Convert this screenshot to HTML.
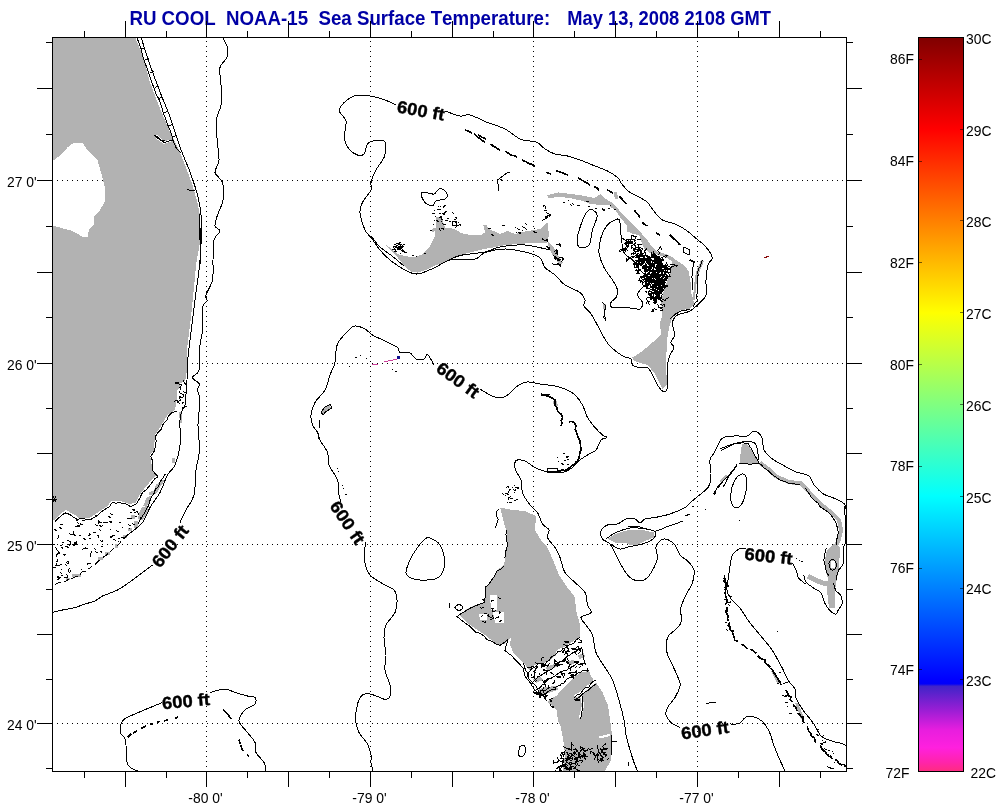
<!DOCTYPE html>
<html lang="en"><head><meta charset="utf-8"><title>RU COOL NOAA-15 Sea Surface Temperature</title>
<style>html,body{margin:0;padding:0;background:#fff;width:1000px;height:809px;overflow:hidden}svg text{font-kerning:none}</style>
</head><body>
<svg width="1000" height="809" viewBox="0 0 1000 809" style="display:block;position:absolute;left:0;top:0">
<rect x="0" y="0" width="1000" height="809" fill="#fff"/>
<defs><filter id="nf" x="-5%" y="-30%" width="110%" height="160%"><feOffset dx="0" dy="0"/></filter></defs>
<text transform="translate(129.4 24.9) scale(1 1.06)" textLength="420.8" font-family="'Liberation Sans',Arial,sans-serif" font-weight="bold" font-size="18.67" fill="#0000a5" xml:space="preserve" lengthAdjust="spacingAndGlyphs" filter="url(#nf)">RU COOL  NOAA-15  Sea Surface Temperature:</text>
<text transform="translate(567.3 24.9) scale(1 1.06)" textLength="203.6" font-family="'Liberation Sans',Arial,sans-serif" font-weight="bold" font-size="18.67" fill="#0000a5" xml:space="preserve" lengthAdjust="spacingAndGlyphs" filter="url(#nf)">May 13, 2008 2108 GMT</text>
<clipPath id="c"><rect x="52" y="37" width="795" height="735"/></clipPath>
<g clip-path="url(#c)">
<path d="M206.5 772V37M370.5 772V37M533.5 772V37M697.5 772V37M52 180.5H846M52 363.5H846M52 544.5H846M52 723.5H846" stroke="#000" stroke-width="1" stroke-dasharray="1 4" fill="none" shape-rendering="crispEdges"/>
<g shape-rendering="crispEdges"><path d="M52.0 37.0L135.0 37.0L142.5 55.0L146.0 67.5L150.0 82.5L157.5 102.5L165.0 120.0L172.5 137.5L180.0 152.5L186.0 167.5L192.5 185.0L197.5 202.5L200.0 215.0L199.5 245.0L196.0 265.0L194.0 287.5L191.0 317.5L187.5 345.0L187.0 370.0L185.0 382.5L177.5 390.0L176.0 405.0L175.0 410.0L167.5 415.0L160.0 427.5L155.0 435.0L154.0 450.0L150.0 455.0L152.5 470.0L156.0 475.0L145.0 487.5L139.0 496.0L136.0 502.5L130.0 504.0L125.0 502.5L120.0 501.0L111.0 501.0L107.5 506.0L100.0 511.0L90.0 517.5L77.5 517.5L75.0 515.0L66.0 510.0L59.0 515.0L54.0 520.0L52.0 520.0ZM52.0 160.0L54.0 160.0L61.0 155.0L67.5 147.5L74.0 142.5L82.5 142.5L87.5 150.0L97.5 160.0L101.0 172.5L105.0 187.5L104.5 202.5L100.0 210.0L94.0 216.0L94.0 225.0L89.0 229.0L87.5 237.0L84.0 237.5L72.5 231.0L54.0 226.0L52.0 225.0Z" fill="#b2b2b2" fill-rule="evenodd"/>
<polygon points="156.0,484.5 163.4,479.7 164.0,481.5 159.7,487.4 156.7,493.4 152.3,495.6 149.3,494.9 148.6,491.9 153.8,491.1" fill="#b2b2b2"/>
<polygon points="141.9,507.5 147.0,506.0 148.6,509.7 145.6,515.6 142.6,520.0 138.2,519.3 138.9,512.6" fill="#b2b2b2"/>
<polygon points="147.0,497.0 151.0,496.0 149.0,503.0 146.0,507.0 143.0,506.0" fill="#b2b2b2"/>
<polygon points="179.0,412.0 182.0,412.0 182.0,423.0 180.0,423.0" fill="#b2b2b2"/>
<rect x="172" y="458" width="3" height="5" fill="#b2b2b2"/>
<rect x="131" y="515" width="4" height="4" fill="#b2b2b2"/>
<rect x="134" y="521" width="4" height="7" fill="#b2b2b2"/>
<rect x="128" y="528" width="4" height="3" fill="#b2b2b2"/>
<rect x="123" y="535" width="4" height="3" fill="#b2b2b2"/>
<rect x="115" y="544" width="3" height="4" fill="#b2b2b2"/>
<rect x="105" y="552" width="5" height="3" fill="#b2b2b2"/>
<rect x="98" y="557" width="5" height="3" fill="#b2b2b2"/>
<rect x="72" y="574" width="9" height="3" fill="#b2b2b2"/>
<rect x="66" y="578" width="4" height="2" fill="#b2b2b2"/>
<polygon points="384.4,243.8 390.4,248.0 397.6,254.0 406.0,256.4 415.6,257.0 422.8,254.0 428.8,248.0 432.4,240.8 435.4,236.0 435.4,231.2 431.8,231.8 431.8,228.8 436.0,227.6 436.0,217.4 440.8,217.4 443.2,221.6 445.0,227.6 454.0,228.8 461.2,233.0 472.0,235.4 480.4,235.4 485.2,232.4 483.4,225.2 485.8,224.6 490.0,229.4 500.0,234.0 507.5,231.0 515.0,234.0 527.5,231.0 540.0,229.0 547.5,222.5 549.0,235.0 547.5,242.5 535.0,242.5 520.0,244.0 505.0,245.0 490.0,248.0 478.0,250.4 461.2,254.6 449.2,259.4 442.0,263.0 433.6,266.0 426.4,269.6 418.0,272.6 412.0,272.0 407.2,269.0 402.4,263.6 397.6,257.6 390.4,250.4" fill="#b2b2b2"/>
<polygon points="548.0,242.0 553.0,246.0 558.0,255.0 563.0,263.0 560.0,265.0 554.0,257.0 549.0,249.0" fill="#b2b2b2"/>
<polygon points="547.0,195.2 558.5,192.4 573.7,194.3 585.0,196.0 594.6,198.0 600.3,194.3 606.0,199.0 613.6,203.8 611.7,205.5 602.0,205.0 590.8,204.0 583.0,201.0 571.8,198.5 558.5,196.5 549.0,198.5" fill="#b2b2b2"/>
<polygon points="613.6,192.4 617.0,192.4 618.4,199.0 615.0,199.0" fill="#b2b2b2"/>
<polygon points="609.8,204.0 613.6,203.8 621.0,212.3 628.8,220.0 636.4,227.5 642.0,234.0 647.8,240.8 651.6,246.5 656.4,251.3 663.0,253.0 670.6,256.0 677.3,260.8 684.0,265.5 688.7,271.0 690.6,282.6 691.5,294.0 694.4,303.5 690.0,309.0 680.0,310.0 672.5,317.5 669.0,327.5 667.0,340.0 666.0,365.0 667.0,385.0 662.5,389.0 660.0,384.0 654.0,372.5 647.5,365.0 634.0,361.0 632.5,357.5 642.5,351.0 652.5,342.5 661.0,335.0 660.0,322.5 662.5,315.0 661.0,301.6 663.0,294.0 666.8,282.6 670.6,271.0 672.5,261.7 666.8,258.0 659.0,255.0 649.7,253.0 644.0,248.4 641.0,240.8 639.0,235.0 633.6,234.0 627.0,231.3 627.0,225.6 623.0,220.9 619.3,216.0 615.5,210.4 609.8,206.6" fill="#b2b2b2"/>
<polygon points="701.0,260.0 704.0,261.0 699.0,273.0 696.0,286.0 695.0,300.0 693.0,300.0 694.0,285.0 696.0,272.0" fill="#b2b2b2"/>
<polygon points="500.0,507.5 512.5,510.0 525.0,511.0 536.0,516.0 535.0,530.0 541.0,540.0 547.5,547.5 554.0,562.5 559.0,575.0 567.5,587.5 575.0,597.5 576.0,610.0 580.0,625.0 580.0,637.0 572.0,642.0 564.5,646.7 556.7,650.0 555.6,655.6 547.8,662.0 539.0,663.4 531.0,666.7 530.0,671.0 525.6,665.6 520.0,660.0 514.0,654.0 510.0,645.0 511.0,637.5 505.0,644.0 497.5,645.0 485.0,635.0 470.0,625.0 460.0,616.0 465.0,610.0 475.0,605.0 485.0,602.5 486.0,586.0 492.5,580.0 497.5,570.0 504.0,565.0 505.5,555.0 507.5,542.5 506.0,530.0 502.5,517.5" fill="#b2b2b2"/>
<polygon points="589.0,671.0 591.0,676.7 595.6,682.0 598.0,685.6 602.3,692.0 608.0,705.6 610.0,720.0 611.0,725.0 612.5,742.5 611.0,760.0 605.0,771.0 562.5,771.0 565.0,755.0 564.0,745.0 561.0,727.5 557.8,720.0 556.7,710.0 547.8,702.0 550.0,699.0 556.7,695.6 562.0,689.0 569.0,682.0 575.6,675.6 582.3,672.0" fill="#b2b2b2"/>
<polygon points="538.0,690.0 545.0,687.0 557.0,686.0 558.0,690.0 548.0,693.0 540.0,694.0" fill="#b2b2b2"/>
<polygon points="533.0,679.0 540.0,677.0 543.0,680.0 536.0,683.0" fill="#b2b2b2"/>
<polygon points="568.0,661.0 574.0,660.0 574.0,664.0 569.0,665.0" fill="#b2b2b2"/>
<polygon points="545.0,668.0 556.0,663.0 558.0,666.0 548.0,671.0" fill="#b2b2b2"/>
<polygon points="578.0,655.0 584.0,653.0 585.0,657.0 579.0,659.0" fill="#b2b2b2"/>
<polygon points="490.0,595.0 497.0,595.0 497.5,610.0 491.0,610.0" fill="#fff"/>
<polygon points="479.0,614.0 487.0,614.0 487.5,620.0 480.0,620.0" fill="#fff"/>
<polygon points="493.0,612.0 504.0,612.0 504.0,622.5 495.0,622.5" fill="#fff"/>
<path d="M599 737.5L610 735" stroke="#fff" stroke-width="2.2" fill="none"/>
<path d="M596 680.5L588 687L581 693L575 696.5" stroke="#fff" stroke-width="3.2" fill="none"/>
<path d="M581 694L583 705L580 718" stroke="#fff" stroke-width="2.2" fill="none"/>
<polygon points="154.0,134.5 158.0,135.5 164.0,141.0 172.0,139.5 172.5,141.0 164.0,144.0 157.0,139.5" fill="#fff"/>
<polygon points="180.5,383.0 185.5,381.0 185.0,404.0 181.0,406.0 179.0,395.0" fill="#fff"/>
<polygon points="607.5,539.0 615.0,534.0 630.0,529.5 642.5,530.0 654.0,532.5 654.0,537.5 645.0,541.0 637.5,545.0 630.0,545.0 625.0,542.5 615.0,542.5" fill="#b2b2b2"/>
<polygon points="742.0,443.5 748.0,444.7 754.0,454.6 759.0,463.0 750.5,464.5 739.5,463.0 740.7,452.0" fill="#b2b2b2"/>
<path d="M760.0 463.0L769.0 469.5L777.0 477.0L789.0 482.0L801.0 483.5L809.0 492.0L816.0 499.0L824.0 507.0L833.0 514.0L839.0 520.0L841.0 530.0L839.0 539.0L835.0 548.0" stroke="#b2b2b2" stroke-width="4.2" fill="none" stroke-linejoin="round"/>
<polygon points="833.0,544.0 840.0,547.0 839.0,570.0 837.0,578.0 835.0,590.0 835.0,608.0 829.0,608.0 827.0,590.0 828.0,578.0 826.0,572.0 825.0,560.0 827.0,550.0" fill="#b2b2b2"/>
<path d="M808 576L815 580L823 583L831 584" stroke="#b2b2b2" stroke-width="5" fill="none"/>
<polygon points="830.5,561.0 834.5,561.0 835.0,568.0 831.0,568.0" fill="#fff"/>
<polygon points="321.0,412.0 325.0,407.0 330.0,405.0 331.0,408.0 326.0,411.0 323.0,414.0" fill="#b2b2b2"/>
<polygon points="553.0,401.0 557.0,401.0 558.0,406.0 554.0,406.0" fill="#b2b2b2"/>
<polygon points="603.0,304.0 606.0,304.0 606.0,309.0 603.0,309.0" fill="#b2b2b2"/>
<polygon points="771.0,671.0 774.0,671.0 780.0,682.0 777.0,683.0" fill="#b2b2b2"/>
<polygon points="795.0,703.0 798.0,703.0 804.0,718.0 801.0,719.0" fill="#b2b2b2"/>
<polygon points="719.0,481.0 726.0,475.0 728.0,476.0 721.0,482.0" fill="#b2b2b2"/>
<path d="M372 364.5h6M384 361.5h4M388 360.5h5M393 359.5h4" stroke="#cc3d99" stroke-width="1.6" fill="none"/>
<rect x="397" y="356" width="3" height="2.5" fill="#101090"/>
<path d="M764 257.5h3M766 256.5h3" stroke="#8a0c0c" stroke-width="1.2" fill="none"/></g>
<path d="M222.5 37.0C223.3 38.8 226.8 44.1 227.5 47.5C228.2 50.9 228.2 54.2 227.0 57.5C225.8 60.8 221.0 62.9 220.0 67.5C219.0 72.1 220.8 78.8 221.0 85.0C221.2 91.2 221.7 99.6 221.0 105.0C220.3 110.4 217.7 112.1 217.0 117.5C216.3 122.9 216.7 130.4 217.0 137.5C217.3 144.6 219.3 154.2 219.0 160.0C218.7 165.8 214.4 168.8 215.0 172.5C215.6 176.2 221.2 177.9 222.5 182.5C223.8 187.1 223.8 194.6 223.0 200.0C222.2 205.4 218.8 210.7 217.5 215.0C216.2 219.3 214.6 223.3 215.0 226.0C215.4 228.7 220.2 228.7 220.0 231.0C219.8 233.3 215.2 235.2 214.0 240.0C212.8 244.8 213.2 253.3 213.0 260.0C212.8 266.7 213.7 274.2 212.5 280.0C211.3 285.8 206.9 291.5 206.0 295.0C205.1 298.5 207.6 298.9 207.0 301.0C206.4 303.1 203.2 302.7 202.5 307.5C201.8 312.3 202.9 323.8 202.5 330.0C202.1 336.2 200.6 338.3 200.0 345.0C199.4 351.7 200.2 364.6 199.0 370.0C197.8 375.4 192.4 375.2 192.5 377.5C192.6 379.8 198.7 381.9 199.5 384.0C200.3 386.1 197.4 387.3 197.5 390.0C197.6 392.7 199.9 394.2 200.0 400.0C200.1 405.8 198.1 416.7 198.0 425.0C197.9 433.3 199.8 442.5 199.5 450.0C199.2 457.5 196.9 462.5 196.0 470.0C195.1 477.5 195.7 488.3 194.0 495.0C192.3 501.7 188.3 505.4 186.0 510.0C183.7 514.6 181.0 520.4 180.0 522.5M152.5 565.0C149.2 567.5 138.3 575.8 132.5 580.0C126.7 584.2 122.5 587.3 117.5 590.0C112.5 592.7 106.2 594.2 102.5 596.0C98.8 597.8 97.9 599.7 95.0 601.0C92.1 602.3 88.3 602.9 85.0 604.0C81.7 605.1 78.8 606.5 75.0 607.5C71.2 608.5 66.3 609.2 62.5 610.0C58.7 610.8 53.8 612.1 52.0 612.5M141.0 37.0C142.3 41.2 145.8 52.8 149.0 62.0C152.2 71.2 156.5 82.8 160.0 92.0C163.5 101.2 166.7 107.8 170.0 117.0C173.3 126.2 176.7 137.8 180.0 147.0C183.3 156.2 187.1 164.0 190.0 172.0C192.9 180.0 195.7 187.8 197.5 195.0C199.3 202.2 200.4 206.7 201.0 215.0C201.6 223.3 201.3 235.8 201.0 245.0C200.7 254.2 200.0 260.8 199.0 270.0C198.0 279.2 196.3 289.6 195.0 300.0C193.7 310.4 192.2 322.9 191.0 332.5C189.8 342.1 188.7 349.6 188.0 357.5C187.3 365.4 187.5 372.1 187.0 380.0C186.5 387.9 185.8 400.0 185.0 405.0C184.2 410.0 183.3 407.5 182.5 410.0C181.7 412.5 180.4 414.2 180.0 420.0C179.6 425.8 180.8 437.5 180.0 445.0C179.2 452.5 177.1 460.0 175.0 465.0C172.9 470.0 170.0 470.4 167.5 475.0C165.0 479.6 162.9 487.1 160.0 492.5C157.1 497.9 152.9 502.5 150.0 507.5C147.1 512.5 146.2 517.9 142.5 522.5C138.8 527.1 130.0 532.9 127.5 535.0M396.0 105.0C394.2 104.2 389.3 101.5 385.0 100.0C380.7 98.5 375.2 96.7 370.0 96.0C364.8 95.3 358.8 94.3 354.0 96.0C349.2 97.7 343.3 103.2 341.0 106.0C338.7 108.8 339.2 110.0 340.0 112.5C340.8 115.0 345.2 116.8 346.0 121.0C346.8 125.2 344.0 132.8 344.5 137.5C345.0 142.2 346.8 146.1 349.0 149.0C351.2 151.9 355.0 154.2 357.5 155.0C360.0 155.8 362.3 155.8 364.0 154.0C365.7 152.2 365.7 146.2 367.5 144.0C369.3 141.8 372.2 141.0 375.0 140.5C377.8 140.0 382.2 140.1 384.0 141.0C385.8 141.9 386.0 143.2 386.0 146.0C386.0 148.8 385.7 153.5 384.0 157.5C382.3 161.5 378.2 165.8 376.0 170.0C373.8 174.2 371.8 179.2 371.0 182.5C370.2 185.8 372.4 186.7 371.0 190.0C369.6 193.3 364.3 198.8 362.5 202.5C360.7 206.2 359.6 207.9 360.0 212.5C360.4 217.1 363.2 225.8 365.0 230.0C366.8 234.2 368.5 234.2 371.0 237.5C373.5 240.8 376.8 246.2 380.0 250.0C383.2 253.8 385.8 256.7 390.0 260.0C394.2 263.3 400.4 267.7 405.0 270.0C409.6 272.3 412.5 274.4 417.5 274.0C422.5 273.6 429.6 269.8 435.0 267.5C440.4 265.2 443.3 261.4 450.0 260.0C456.7 258.6 469.2 260.2 475.0 259.0C480.8 257.8 480.0 254.2 485.0 252.5C490.0 250.8 498.3 249.1 505.0 249.0C511.7 248.9 520.0 251.0 525.0 252.0C530.0 253.0 532.3 253.8 535.0 255.0C537.7 256.2 539.3 256.9 541.0 259.0C542.7 261.1 542.7 264.8 545.0 267.5C547.3 270.2 551.7 272.1 555.0 275.0C558.3 277.9 560.8 282.1 565.0 285.0C569.2 287.9 576.7 290.0 580.0 292.5C583.3 295.0 584.3 297.8 585.0 300.0C585.7 302.2 583.2 303.9 584.0 306.0C584.8 308.1 588.0 309.8 590.0 312.5C592.0 315.2 593.9 318.8 596.0 322.5C598.1 326.2 600.3 331.2 602.5 335.0C604.7 338.8 606.5 342.1 609.0 345.0C611.5 347.9 614.8 350.5 617.5 352.5C620.2 354.5 622.8 355.9 625.0 357.0C627.2 358.1 629.8 357.7 631.0 359.0C632.2 360.3 631.0 363.6 632.5 365.0C634.0 366.4 637.5 367.1 640.0 367.5C642.5 367.9 645.4 366.2 647.5 367.5C649.6 368.8 650.8 372.1 652.5 375.0C654.2 377.9 655.8 382.3 657.5 385.0C659.2 387.7 660.9 390.3 662.5 391.0C664.1 391.7 666.2 393.3 667.0 389.0C667.8 384.7 667.0 370.7 667.5 365.0C668.0 359.3 668.9 357.9 670.0 355.0C671.1 352.1 673.8 349.6 674.0 347.5C674.2 345.4 670.9 344.6 671.0 342.5C671.1 340.4 674.2 338.3 674.5 335.0C674.8 331.7 672.0 325.8 672.5 322.5C673.0 319.2 674.6 316.9 677.5 315.0C680.4 313.1 686.2 313.1 690.0 311.0C693.8 308.9 697.3 305.2 700.0 302.5C702.7 299.8 705.0 298.8 706.0 295.0C707.0 291.2 705.7 285.0 706.0 280.0C706.3 275.0 707.0 268.5 708.0 265.0C709.0 261.5 711.5 260.8 712.0 259.0C712.5 257.2 712.2 256.2 711.0 254.0C709.8 251.8 707.7 248.8 705.0 246.0C702.3 243.2 698.2 240.2 695.0 237.5C691.8 234.8 689.3 232.2 686.0 230.0C682.7 227.8 678.9 225.7 675.0 224.0C671.1 222.3 665.8 221.9 662.5 220.0C659.2 218.1 657.5 215.4 655.0 212.5C652.5 209.6 650.0 205.0 647.5 202.5C645.0 200.0 642.9 199.2 640.0 197.5C637.1 195.8 632.9 194.6 630.0 192.5C627.1 190.4 624.6 187.5 622.5 185.0C620.4 182.5 620.0 179.8 617.5 177.5C615.0 175.2 611.2 172.9 607.5 171.0C603.8 169.1 599.6 167.8 595.0 166.0C590.4 164.2 584.6 161.7 580.0 160.0C575.4 158.3 571.7 157.0 567.5 156.0C563.3 155.0 558.8 155.2 555.0 154.0C551.2 152.8 547.9 150.9 545.0 149.0C542.1 147.1 540.0 143.8 537.5 142.5C535.0 141.2 532.9 141.6 530.0 141.0C527.1 140.4 524.2 141.0 520.0 139.0C515.8 137.0 510.4 131.8 505.0 129.0C499.6 126.2 493.3 124.8 487.5 122.5C481.7 120.2 474.6 116.1 470.0 115.0C465.4 113.9 464.2 116.7 460.0 116.0C455.8 115.3 447.5 111.8 445.0 111.0M447.5 261.0C449.6 260.1 453.8 257.0 460.0 255.5C466.2 254.0 478.3 253.4 485.0 252.0C491.7 250.6 493.3 248.2 500.0 247.0C506.7 245.8 516.7 244.5 525.0 245.0C533.3 245.5 545.8 249.2 550.0 250.0M371.0 236.0C372.5 237.8 376.5 243.7 380.0 247.0C383.5 250.3 388.0 252.8 392.0 256.0C396.0 259.2 402.0 264.3 404.0 266.0M590.0 209.5C591.8 209.1 594.8 211.2 596.0 212.5C597.2 213.8 597.6 214.6 597.0 217.5C596.4 220.4 593.8 225.4 592.5 230.0C591.2 234.6 591.1 242.1 589.0 245.0C586.9 247.9 582.0 248.3 580.0 247.5C578.0 246.7 577.0 243.3 577.0 240.0C577.0 236.7 578.7 231.7 580.0 227.5C581.3 223.3 583.3 218.0 585.0 215.0C586.7 212.0 588.2 209.9 590.0 209.5ZM617.5 219.0C615.4 219.4 610.2 221.9 607.5 225.0C604.8 228.1 602.4 232.9 601.0 237.5C599.6 242.1 598.5 247.5 599.0 252.5C599.5 257.5 601.8 262.9 604.0 267.5C606.2 272.1 610.2 276.2 612.5 280.0C614.8 283.8 616.9 287.1 617.5 290.0C618.1 292.9 617.1 295.4 616.0 297.5C614.9 299.6 611.6 300.8 611.0 302.5C610.4 304.2 609.3 306.6 612.5 307.5C615.7 308.4 625.4 307.8 630.0 308.0C634.6 308.2 637.9 309.9 640.0 309.0C642.1 308.1 642.9 304.8 642.5 302.5C642.1 300.2 637.5 297.5 637.5 295.0C637.5 292.5 640.4 289.8 642.5 287.5C644.6 285.2 650.4 283.9 650.0 281.0C649.6 278.1 642.9 273.5 640.0 270.0C637.1 266.5 635.2 262.9 632.5 260.0C629.8 257.1 625.9 256.7 624.0 252.5C622.1 248.3 621.7 240.0 621.0 235.0C620.3 230.0 620.6 225.2 620.0 222.5C619.4 219.8 619.6 218.6 617.5 219.0ZM421.0 194.0C421.0 195.7 423.1 200.5 425.0 202.5C426.9 204.5 430.7 206.2 432.5 206.0C434.3 205.8 433.9 202.2 436.0 201.0C438.1 199.8 443.1 200.0 445.0 199.0C446.9 198.0 447.7 196.5 447.5 195.0C447.3 193.5 445.4 191.0 444.0 190.0C442.6 189.0 440.7 188.3 439.0 189.0C437.3 189.7 436.3 193.4 434.0 194.0C431.7 194.6 427.2 192.5 425.0 192.5C422.8 192.5 421.0 192.3 421.0 194.0ZM434.0 365.0C432.9 363.2 429.2 355.5 427.5 354.5C425.8 353.5 425.9 358.2 424.0 359.0C422.1 359.8 418.3 360.0 416.0 359.0C413.7 358.0 412.7 354.1 410.0 353.0C407.3 351.9 402.1 353.4 400.0 352.5C397.9 351.6 400.0 349.4 397.5 347.5C395.0 345.6 389.2 343.1 385.0 341.0C380.8 338.9 375.8 337.0 372.5 335.0C369.2 333.0 367.9 330.5 365.0 329.0C362.1 327.5 357.7 325.8 355.0 326.0C352.3 326.2 351.9 327.0 349.0 330.0C346.1 333.0 339.8 338.6 337.5 344.0C335.2 349.4 336.2 357.3 335.0 362.5C333.8 367.7 331.7 370.4 330.0 375.0C328.3 379.6 327.5 385.4 325.0 390.0C322.5 394.6 317.3 398.3 315.0 402.5C312.7 406.7 311.4 411.2 311.0 415.0C310.6 418.8 311.4 422.2 312.5 425.0C313.6 427.8 316.2 429.5 317.5 432.0C318.8 434.5 318.3 436.6 320.0 440.0C321.7 443.4 326.0 448.3 327.5 452.5C329.0 456.7 327.3 460.4 329.0 465.0C330.7 469.6 335.8 475.0 337.5 480.0C339.2 485.0 338.4 491.3 339.0 495.0C339.6 498.7 340.7 500.8 341.0 502.0M365.5 542.5C365.3 545.4 363.8 554.6 364.5 560.0C365.2 565.4 366.6 570.8 370.0 575.0C373.4 579.2 381.0 582.5 385.0 585.0C389.0 587.5 392.0 587.5 394.0 590.0C396.0 592.5 396.8 596.2 397.0 600.0C397.2 603.8 396.8 608.3 395.0 612.5C393.2 616.7 387.8 620.8 386.0 625.0C384.2 629.2 384.0 632.5 384.0 637.5C384.0 642.5 385.8 649.6 386.0 655.0C386.2 660.4 384.3 665.0 385.0 670.0C385.7 675.0 389.1 680.8 390.0 685.0C390.9 689.2 391.2 692.6 390.5 695.0C389.8 697.4 387.8 699.1 386.0 699.5C384.2 699.9 382.7 698.4 380.0 697.5C377.3 696.6 372.9 694.4 370.0 694.0C367.1 693.6 364.5 693.6 362.5 695.0C360.5 696.4 359.2 698.3 358.0 702.5C356.8 706.7 355.3 715.0 355.5 720.0C355.7 725.0 357.0 728.5 359.0 732.5C361.0 736.5 365.5 740.2 367.5 744.0C369.5 747.8 370.4 751.9 371.0 755.0C371.6 758.1 370.7 759.8 371.0 762.5C371.3 765.2 372.7 769.6 373.0 771.0M480.0 389.0C481.7 390.0 486.7 393.5 490.0 395.0C493.3 396.5 497.1 398.0 500.0 398.0C502.9 398.0 504.6 397.0 507.5 395.0C510.4 393.0 514.2 388.2 517.5 386.0C520.8 383.8 523.8 382.3 527.5 382.0C531.2 381.7 535.4 383.3 540.0 384.0C544.6 384.7 550.8 385.2 555.0 386.0C559.2 386.8 561.7 387.5 565.0 389.0C568.3 390.5 572.1 392.3 575.0 395.0C577.9 397.7 580.4 401.2 582.5 405.0C584.6 408.8 585.4 413.8 587.5 417.5C589.6 421.2 592.5 424.6 595.0 427.5C597.5 430.4 600.5 433.3 602.5 435.0C604.5 436.7 607.2 436.7 607.0 437.5C606.8 438.3 602.8 437.9 601.0 440.0C599.2 442.1 598.2 447.5 596.0 450.0C593.8 452.5 590.2 453.3 587.5 455.0C584.8 456.7 582.5 457.9 580.0 460.0C577.5 462.1 575.4 465.4 572.5 467.5C569.6 469.6 566.2 471.7 562.5 472.5C558.8 473.3 553.1 472.8 550.0 472.5C546.9 472.2 546.5 471.8 544.0 471.0C541.5 470.2 538.2 469.2 535.0 467.5C531.8 465.8 527.9 462.2 525.0 461.0C522.1 459.8 519.2 459.8 517.5 460.0C515.8 460.2 515.3 460.8 515.0 462.5C514.7 464.2 514.5 467.1 515.5 470.0C516.5 472.9 519.8 476.2 521.0 480.0C522.2 483.8 521.0 488.3 522.5 492.5C524.0 496.7 527.5 501.7 530.0 505.0C532.5 508.3 535.4 509.3 537.5 512.5C539.6 515.7 540.6 521.1 542.5 524.0C544.4 526.9 548.2 527.8 549.0 530.0C549.8 532.2 546.5 534.6 547.5 537.5C548.5 540.4 552.9 544.2 555.0 547.5C557.1 550.8 558.3 553.3 560.0 557.5C561.7 561.7 562.5 568.3 565.0 572.5C567.5 576.7 571.7 579.2 575.0 582.5C578.3 585.8 582.9 588.8 585.0 592.5C587.1 596.2 586.5 601.7 587.5 605.0C588.5 608.3 592.1 610.4 591.0 612.5C589.9 614.6 581.8 615.4 581.0 617.5C580.2 619.6 584.1 622.1 586.0 625.0C587.9 627.9 590.8 630.4 592.5 635.0C594.2 639.6 593.9 647.1 596.0 652.5C598.1 657.9 602.2 662.9 605.0 667.5C607.8 672.1 610.2 674.6 612.5 680.0C614.8 685.4 617.1 693.3 619.0 700.0C620.9 706.7 622.8 714.2 624.0 720.0C625.2 725.8 625.0 730.0 626.0 735.0C627.0 740.0 628.7 745.4 630.0 750.0C631.3 754.6 632.8 759.0 634.0 762.5C635.2 766.0 636.9 769.6 637.5 771.0M455.0 607.5C455.0 606.5 457.7 604.5 459.0 604.5C460.3 604.5 463.0 606.5 463.0 607.5C463.0 608.5 460.3 610.5 459.0 610.5C457.7 610.5 455.0 608.5 455.0 607.5ZM520.0 746.5C520.9 745.8 523.6 745.2 524.5 746.0C525.4 746.8 525.8 749.3 525.5 751.0C525.2 752.7 524.1 755.2 523.0 756.0C521.9 756.8 519.7 756.5 519.0 755.5C518.3 754.5 518.8 751.5 519.0 750.0C519.2 748.5 519.1 747.2 520.0 746.5ZM430.0 538.0C432.5 539.0 437.6 541.3 440.0 545.0C442.4 548.7 444.1 555.4 444.5 560.0C444.9 564.6 444.1 569.3 442.5 572.5C440.9 575.7 438.8 577.8 435.0 579.0C431.2 580.2 424.2 580.2 420.0 580.0C415.8 579.8 412.3 578.8 410.0 577.5C407.7 576.2 406.0 575.4 406.0 572.5C406.0 569.6 408.1 564.2 410.0 560.0C411.9 555.8 415.0 551.0 417.5 547.5C420.0 544.0 422.9 540.6 425.0 539.0C427.1 537.4 427.5 537.0 430.0 538.0ZM846.0 509.0C845.8 508.2 846.2 505.7 844.5 504.0C842.8 502.3 839.5 500.7 836.0 499.0C832.5 497.3 827.2 496.4 823.5 494.0C819.8 491.6 816.1 487.4 813.6 484.3C811.1 481.2 811.6 477.7 808.7 475.6C805.8 473.6 800.4 473.6 796.3 472.0C792.2 470.4 788.1 468.0 784.0 465.7C779.9 463.4 774.9 461.0 771.6 458.3C768.3 455.6 765.6 453.2 764.0 449.7C762.4 446.2 763.3 440.4 761.7 437.3C760.1 434.2 756.8 431.2 754.3 431.0C751.8 430.8 750.3 435.2 747.0 436.0C743.7 436.8 738.7 435.6 734.5 436.0C730.3 436.4 725.3 435.8 722.0 438.5C718.7 441.2 716.7 448.4 714.7 452.0C712.7 455.6 710.6 456.3 710.0 460.0C709.4 463.7 711.2 469.6 711.0 474.0C710.8 478.4 710.8 482.9 708.5 486.7C706.2 490.5 700.5 493.9 697.4 496.6C694.3 499.3 692.1 501.2 690.0 503.0C687.9 504.8 688.3 505.7 685.0 507.5C681.7 509.3 675.0 512.3 670.0 514.0C665.0 515.7 659.2 516.7 655.0 517.5C650.8 518.3 647.5 518.1 645.0 519.0C642.5 519.9 641.7 523.0 640.0 523.0C638.3 523.0 637.3 519.7 635.0 519.0C632.7 518.3 628.9 518.2 626.0 519.0C623.1 519.8 620.6 523.0 617.5 524.0C614.4 525.0 610.2 523.8 607.5 525.0C604.8 526.2 601.8 528.7 601.0 531.0C600.2 533.3 601.0 536.8 602.5 539.0C604.0 541.2 607.8 541.3 610.0 544.0C612.2 546.7 613.9 551.1 616.0 555.0C618.1 558.9 620.2 563.8 622.5 567.5C624.8 571.2 627.1 575.2 630.0 577.5C632.9 579.8 637.1 581.0 640.0 581.0C642.9 581.0 645.2 579.8 647.5 577.5C649.8 575.2 652.3 570.8 654.0 567.5C655.7 564.2 657.2 560.8 657.5 557.5C657.8 554.2 655.4 550.4 656.0 547.5C656.6 544.6 659.1 541.3 661.0 540.0C662.9 538.7 665.2 538.7 667.5 539.5C669.8 540.3 672.9 542.4 675.0 545.0C677.1 547.6 677.9 552.3 680.0 555.0C682.1 557.7 685.2 558.5 687.5 561.0C689.8 563.5 693.2 566.4 694.0 570.0C694.8 573.6 693.8 578.3 692.5 582.5C691.2 586.7 687.9 590.8 686.0 595.0C684.1 599.2 681.8 602.9 681.0 607.5C680.2 612.1 682.0 618.8 681.0 622.5C680.0 626.2 677.2 627.5 675.0 630.0C672.8 632.5 668.8 633.8 667.5 637.5C666.2 641.2 666.2 647.9 667.0 652.5C667.8 657.1 670.5 660.4 672.5 665.0C674.5 669.6 677.8 676.5 679.0 680.0C680.2 683.5 680.7 683.1 680.0 686.0C679.3 688.9 677.1 693.9 675.0 697.5C672.9 701.1 669.0 704.6 667.5 707.5C666.0 710.4 665.4 712.5 666.0 715.0C666.6 717.5 668.7 720.4 671.0 722.5C673.3 724.6 678.5 726.7 680.0 727.5M730.0 724.0C731.6 723.9 736.8 724.6 739.4 723.5C742.0 722.4 743.3 718.4 745.6 717.3C747.9 716.1 750.3 716.0 753.0 716.6C755.7 717.2 759.0 718.6 761.7 721.0C764.4 723.4 767.0 726.9 769.0 731.0C771.0 735.1 772.3 741.2 774.0 745.7C775.7 750.2 777.2 753.8 779.0 758.0C780.8 762.2 784.0 768.8 785.0 771.0M610.0 544.0C611.7 544.8 616.7 548.6 620.0 549.0C623.3 549.4 626.7 547.2 630.0 546.5C633.3 545.8 636.7 545.4 640.0 544.5C643.3 543.6 647.4 542.4 650.0 541.0C652.6 539.6 654.8 537.7 655.5 536.0C656.2 534.3 656.2 532.2 654.0 531.0C651.8 529.8 646.0 529.0 642.0 528.5C638.0 528.0 634.5 527.2 630.0 528.0C625.5 528.8 619.0 531.2 615.0 533.0C611.0 534.8 607.5 538.0 606.0 539.0M713.5 494.0C714.5 492.4 717.0 487.6 719.7 484.3C722.4 481.0 726.7 477.7 729.6 474.4C732.5 471.1 735.8 466.1 737.0 464.5M720.0 449.0C721.7 448.3 726.2 446.2 730.0 445.0C733.8 443.8 738.3 442.2 742.5 442.0C746.7 441.8 752.2 440.5 755.0 443.5C757.8 446.5 758.3 457.2 759.0 460.0M740.7 474.4C742.6 473.6 744.6 474.0 745.6 475.6C746.6 477.2 747.3 480.0 746.9 484.3C746.5 488.6 744.6 497.7 743.0 501.6C741.4 505.5 738.8 507.4 737.0 507.8C735.2 508.2 733.0 506.3 732.0 504.0C731.0 501.7 730.4 497.9 730.8 494.0C731.2 490.1 732.9 483.9 734.5 480.6C736.1 477.3 738.9 475.2 740.7 474.4ZM844.5 506.5C844.7 509.6 845.3 519.2 845.5 525.0C845.7 530.8 846.1 537.1 845.7 541.0C845.3 544.9 843.7 544.8 843.3 548.5C842.9 552.2 844.1 559.7 843.3 563.4C842.5 567.1 839.5 568.0 838.3 570.8C837.1 573.6 836.4 578.5 836.0 580.0M803.7 574.5C804.1 575.8 804.4 579.8 806.0 582.0C807.6 584.2 811.1 586.2 813.6 588.0C816.1 589.8 819.1 590.5 821.0 593.0C822.9 595.5 823.0 599.9 824.7 603.0C826.4 606.1 829.1 609.8 831.0 611.6C832.9 613.4 834.7 614.3 835.9 614.0C837.1 613.7 837.3 611.7 838.3 610.0C839.3 608.3 841.6 606.4 842.0 604.0C842.4 601.6 841.8 597.7 840.8 595.5C839.8 593.3 837.1 592.7 835.9 590.6C834.7 588.5 833.8 584.3 833.4 583.0M829.0 563.0C829.2 561.3 831.3 559.5 832.5 559.5C833.7 559.5 835.6 561.4 836.0 563.0C836.4 564.6 835.8 567.9 835.0 569.0C834.2 570.1 832.0 570.5 831.0 569.5C830.0 568.5 828.8 564.7 829.0 563.0ZM745.6 548.6C744.6 548.7 741.5 548.2 739.4 549.0C737.3 549.8 734.7 551.5 733.3 553.5C731.9 555.5 731.6 556.9 730.8 561.0C730.0 565.1 728.9 573.4 728.3 578.2C727.7 583.0 726.6 586.6 727.0 590.0C727.4 593.4 728.7 595.8 730.8 598.7C732.9 601.6 736.3 603.4 739.4 607.3C742.5 611.2 745.6 617.0 749.3 622.0C753.0 627.0 758.0 632.5 761.7 637.0C765.4 641.5 768.3 644.4 771.6 649.3C774.9 654.2 778.6 661.2 781.5 666.6C784.4 672.0 786.6 677.8 788.9 681.5C791.1 685.2 793.8 686.1 795.0 689.0C796.2 691.9 794.8 695.1 796.3 698.8C797.8 702.5 800.8 706.9 803.7 711.0C806.6 715.1 810.7 719.4 813.6 723.5C816.5 727.6 818.1 733.0 821.0 735.9C823.9 738.8 827.6 739.6 830.9 740.8C834.2 742.0 838.3 742.5 840.8 743.3C843.3 744.1 845.1 745.3 846.0 745.7M792.6 563.4C793.2 564.6 795.3 568.3 796.3 570.8C797.3 573.3 797.1 575.9 798.8 578.2C800.4 580.5 805.0 583.4 806.2 584.4M137.5 771.0C135.8 769.8 129.5 769.2 127.5 764.0C125.5 758.8 126.7 745.2 125.5 740.0C124.3 734.8 121.0 735.7 120.5 732.5C120.0 729.3 120.5 723.9 122.5 721.0C124.5 718.1 125.8 718.1 132.5 715.0C139.2 711.9 157.5 704.6 162.5 702.5M210.0 692.5C212.5 691.9 220.8 689.0 225.0 689.0C229.2 689.0 231.2 691.3 235.0 692.5C238.8 693.7 244.2 695.2 247.5 696.0C250.8 696.8 253.8 696.2 255.0 697.5C256.2 698.8 256.7 701.9 255.0 704.0C253.3 706.1 247.7 707.2 245.0 710.0C242.3 712.8 238.6 717.2 239.0 721.0C239.4 724.8 244.8 728.9 247.5 732.5C250.2 736.1 253.6 739.2 255.0 742.5C256.4 745.8 254.5 749.2 256.0 752.5C257.5 755.8 262.3 759.4 264.0 762.5C265.7 765.6 265.7 769.6 266.0 771.0" stroke="#000" stroke-width="1" fill="none" shape-rendering="crispEdges"/>
<path d="M136.8 37.6L139.4 44.0L141.5 50.8L143.2 57.5L145.4 63.9L147.5 69.5L149.9 76.4L151.5 81.7L154.2 88.5L156.1 93.9L159.1 99.7L161.4 106.2L163.1 112.3L165.8 119.4L167.6 124.9L170.2 130.4L172.1 135.9L173.5 141.8L176.2 147.9L181.0 153.0M140.9 49.0L145.1 47.5M144.8 60.0L149.0 58.5M149.5 73.2L153.7 71.7M154.6 87.5L158.8 86.0M158.4 98.5L162.6 97.0M163.5 112.8L167.7 111.3M168.2 126.0L172.4 124.5M172.1 137.0L176.3 135.5M154.0 135.0L158.0 137.0L164.0 142.5L172.5 140.0M155.0 136.0L160.0 140.0L165.0 141.0M187.5 189.0L191.0 191.0L195.0 190.0M199.5 214.0L199.5 240.0M200.5 228.0L200.5 264.0M180.5 395.8L179.1 397.4L180.6 400.6M178.7 388.1L181.0 385.8L180.1 389.6M178.9 391.3L180.5 393.5L183.6 394.3M184.1 395.5L182.8 397.5L179.4 397.5M178.6 382.5L175.4 383.0L178.5 384.2M183.2 406.8L182.6 409.2L181.9 407.9M181.7 384.5L179.6 384.6M180.3 399.9L177.5 402.3L179.7 403.5M182.4 403.9L183.8 402.2L181.8 403.4M185.1 405.9L186.7 406.8M183.3 380.3L184.2 382.3L185.9 384.6L184.1 383.1M179.0 403.2L177.1 400.4L173.6 401.4L176.6 400.5M182.5 390.7L184.9 392.6L186.5 393.3M179.7 384.4L178.3 383.3L175.7 382.2M176.9 411.2L171.4 412.9L168.3 416.3L166.9 420.4L163.4 423.6L161.0 429.5L158.5 431.9L155.3 436.5L156.1 440.6L155.7 445.4L154.4 450.9L150.7 456.4L152.7 461.2L152.3 465.6L152.7 470.7L158.0 476.8L154.7 478.7L152.1 482.5L149.3 486.0L146.6 489.5L142.4 492.7L139.8 498.1L136.4 504.0L130.5 506.5L125.6 503.9L119.4 502.7L115.7 503.1L112.4 502.2L109.4 506.7L104.0 509.9L100.7 512.5L97.0 516.0L90.0 519.8L86.2 519.3L82.7 518.2L77.3 519.4L73.4 517.3L69.9 514.5L65.2 512.9L60.4 516.4L55.0 521.5M127.9 534.3L124.8 537.9L122.5 539.4M121.0 541.7L119.1 543.7L116.7 546.4M114.1 547.9L111.7 550.5L110.4 551.4M107.9 553.4L105.8 555.5L103.1 557.2M99.5 560.0L97.9 561.7L95.1 564.5M91.8 566.1L90.6 567.6L88.0 569.1M85.5 571.4L81.9 571.9L80.0 574.7M77.9 576.0L75.4 576.9L71.6 578.8M68.7 578.9L66.7 580.8L63.5 582.2M61.3 582.1L57.4 583.2L55.0 585.0M165.4 473.9L162.6 478.6L160.0 481.7L158.8 486.2L155.5 489.1L154.0 493.5L152.0 496.1L150.0 500.6L148.7 505.3L146.6 508.9L143.9 513.9L140.8 518.7L138.0 524.0M113 539.5h1M67 561.5h2M68 562.5h1M127 518.5h2M89 538.5h2M102 540.5h1M99 529.5h1M100 530.5h1M122 527.5h1M101 546.5h2M114 539.5h1M115 540.5h1M60 572.5h1M61 573.5h1M93 532.5h3M57 561.5h1M76 520.5h2M100 522.5h2M69 533.5h1M99 525.5h2M100 526.5h2M80 523.5h1M110 537.5h2M112 535.5h3M78 525.5h2M79 526.5h1M67 540.5h2M132 523.5h1M133 524.5h2M60 527.5h1M61 528.5h1M61 569.5h1M80 524.5h3M129 518.5h3M66 562.5h1M67 563.5h2M65 546.5h3M110 513.5h1M111 514.5h2M55 547.5h1M53 567.5h3M61 547.5h2M62 548.5h1M128 524.5h1M129 525.5h2M97 535.5h2M109 521.5h3M110 522.5h2M108 516.5h2M109 517.5h2M72 544.5h3M73 545.5h2M95 515.5h3M96 516.5h1M77 522.5h1M78 523.5h1M66 546.5h2M67 547.5h2M53 544.5h2M118 538.5h2M64 577.5h1M79 535.5h2M130 512.5h2M129 528.5h1M75 526.5h3M121 537.5h3M118 541.5h1M135 516.5h2M78 526.5h2M74 543.5h2M75 544.5h1M60 545.5h2M93 532.5h2M102 525.5h1M61 524.5h2M119 522.5h2M59 527.5h2M60 528.5h1M61 575.5h2M95 551.5h1M96 552.5h2M94 548.5h1M95 549.5h1M110 529.5h1M100 540.5h1M101 541.5h2M100 551.5h2M101 552.5h1M54 529.5h2M55 530.5h2M95 524.5h1M96 525.5h2M116 530.5h1M117 531.5h2M60 524.5h2M83 538.5h2M84 539.5h2M81 569.5h1M63 554.5h3M64 555.5h1M58 552.5h2M59 553.5h1M140 517.5h1M69 541.5h2M82 520.5h3M55.8 557.2L57.9 553.8L56.3 554.4M86.8 565.2L88.0 562.9L90.5 563.7M70.2 534.0L72.7 534.5L74.0 531.4M58.6 576.8L59.1 578.4L57.2 576.9M56.9 563.5L56.0 565.5L59.4 565.6L62.0 564.0M73.8 542.6L76.2 541.9L76.2 544.5M69.3 567.8L68.2 570.8L69.4 572.5L71.1 570.5M98.6 536.2L98.6 537.8M56.0 548.5L57.4 550.7L58.7 551.8M108.6 522.0L105.3 522.1L103.3 522.8M90.1 553.8L90.4 556.6L90.9 553.2L91.3 551.0M77.9 526.6L77.7 524.6L77.8 526.7M66.6 574.1L67.3 575.6L67.3 577.7L64.2 577.2M61.9 541.7L64.1 543.3M134.4 509.1L134.6 510.7L131.7 508.6M98.6 519.7L98.4 523.1L100.1 522.5L97.6 520.8M72.4 534.4L76.2 535.5M56.4 562.4L57.8 559.1M89.4 534.6L88.6 536.5L89.4 533.7L91.1 534.4M88.2 548.4L85.1 547.7L83.4 549.0L86.5 548.8M110.4 536.1L110.8 537.5L112.9 536.1M134.0 512.9L137.0 511.4L138.1 513.5L139.1 515.1M59.0 535.5L57.8 539.0M56.9 576.3L60.5 577.5L57.6 580.0M67.3 566.5L65.1 564.4M70.5 542.4L71.0 544.9L68.5 544.6L70.0 546.1M52.0 499.0L57.0 499.0M53.0 496.5L56.0 501.5M56.0 496.5L53.0 501.5M52.0 500.0L56.0 500.0M400 253.5h1M402 250.5h2M403 251.5h2M397 249.5h2M394 244.5h2M396 247.5h1M397 248.5h2M396 247.5h3M396 243.5h2M394 251.5h3M401 248.5h1M402 249.5h1M403 250.5h1M404 251.5h1M405 252.5h2M401 250.5h1M402 251.5h2M398 244.5h2M403 244.5h2M396.1 246.6L396.9 248.3M402.4 248.8L403.9 251.4L405.8 253.1M399.7 246.5L397.2 245.6L398.5 244.5M402.9 248.4L402.8 246.2L401.2 247.7M395.3 246.3L393.6 247.0M400.7 244.3L400.6 247.1L403.3 246.8L402.2 245.0M395.3 248.3L393.4 249.4L395.8 250.1M399.5 244.3L401.7 244.4M395.0 246.5L393.2 247.6M395.2 246.6L396.0 247.8L397.0 245.1M398.1 244.4L400.2 242.2M397.6 245.8L400.6 246.9M402.0 248.2L398.9 249.3L398.7 247.3L400.0 246.4M398.8 246.8L400.6 249.6M434 210.5h1M434 213.5h1M434.5 216.5h1M434 220.5h1M433 224.5h1M430 230.5h2M424 253.5h2M412 255.5h2M416 256.5h1M452.8 221.0L456.4 221.0L456.4 225.0L452.8 225.0ZM437 220.5h1M438 221.5h1M449 221.5h2M439 213.5h2M447 218.5h2M455 217.5h2M456 218.5h1M441 221.5h1M455 222.5h2M441 219.5h2M442 228.5h1M443 229.5h1M439 228.5h1M441 228.5h3M458 222.5h1M454 219.5h2M445 220.5h3M438 206.5h1M439 229.5h1M440 230.5h1M453 221.5h1M436 220.5h2M437 221.5h1M459 224.5h2M460 225.5h1M440 206.5h1M452 212.5h1M453 213.5h1M442 213.5h2M443 214.5h2M455.3 227.8L456.9 225.6L459.2 226.0M446.2 224.3L444.7 224.6L442.0 223.5M442.0 215.9L441.3 218.8M435.5 213.7L432.4 213.9M439.2 217.4L441.6 216.7L440.0 215.8M440.5 209.1L437.0 209.4M443.1 207.4L445.5 205.5L443.0 206.8M444.4 212.6L446.5 211.1L444.1 213.4M488 228.5h3M522 230.5h1M533 231.5h2M534 232.5h2M522 226.5h1M523 227.5h2M518 232.5h3M519 233.5h2M516 232.5h1M515 227.5h1M525 223.5h1M526 224.5h1M525 228.5h1M526 229.5h1M491 234.5h2M492 235.5h2M534 228.5h1M517 228.5h1M518 229.5h2M534 232.5h3M502 225.5h3M497.5 180.0L507.5 172.5L510.0 173.0M497.5 180.0L499.0 191.0M500.0 179.0L503.0 181.0M684.0 247.0L690.0 250.0L689.0 255.0L683.0 252.0ZM545.8 212.3L549.0 214.2L550.3 216.0L549.0 217.2M546.8 210.5L544.5 210.1M547.0 216.2L550.0 215.2M543.0 206.7L544.2 205.2M545.4 218.3L548.3 216.4M542.0 220.1L543.7 219.9L546.1 218.2L544.6 216.5M545.9 208.6L545.8 206.0M550.6 214.4L547.5 216.2L544.6 216.7M557.0 249.1L555.2 250.9L556.8 250.5M559.5 257.3L561.1 257.5M561.3 266.0L558.6 265.8M560.9 257.0L563.5 258.8L561.7 261.7M558.0 263.9L555.6 264.9L552.3 263.7M555.3 254.1L556.9 252.4L557.7 255.0M550.1 246.6L549.2 249.4L546.9 246.8L550.1 247.7M559.8 260.9L557.5 259.0L555.3 256.7L552.6 254.8M556.2 260.3L554.3 257.2M555.6 244.4L559.3 244.7L560.7 246.5L559.8 242.9M558.4 263.9L557.0 263.3L559.5 265.7M558.4 264.0L561.3 265.4L558.0 263.1M560.0 265.7L560.4 267.4M556.5 248.6L556.7 251.9L557.3 253.4L557.8 250.2M548.2 242.4L547.0 239.5L545.3 241.0L542.1 238.7M556.6 260.7L559.8 259.5L557.8 258.6M595 208.5h2M563 202.5h2M608 208.5h2M568 200.5h1M602 209.5h1M603 210.5h1M602 209.5h3M603 210.5h2M588 206.5h2M610 205.5h1M602 208.5h1M586 201.5h3M572 203.5h1M573 204.5h1M570 204.5h1M571 205.5h1M614 209.5h2M577 205.5h3M636.8 239.4L639.4 239.4L641.0 239.6M642.2 282.6L646.2 281.2L649.2 282.5L647.7 283.6L649.9 283.0M651.2 278.4L652.9 282.1L651.4 283.7L651.0 281.7L655.1 280.1M637.0 270.2L638.8 270.8L638.9 266.5L637.9 264.4L634.7 262.3M629.9 257.9L627.9 259.6L625.8 261.5L627.3 257.6M666.5 267.2L667.1 265.3L667.9 263.8M653.8 261.1L654.5 256.8L656.9 255.6M626.0 241.9L625.0 243.8L627.0 245.6L625.2 248.8M666.4 265.4L666.1 268.1L667.4 270.0M664.0 258.6L663.9 260.4L661.1 261.2M654.3 287.9L650.6 286.4L653.4 289.0M670.1 264.9L674.4 264.9L676.3 266.2L677.7 265.2M658.8 256.0L656.0 257.0M648.8 265.6L649.9 268.2L651.7 267.1L650.0 266.2M628.7 242.6L628.8 240.6L631.1 243.3L629.7 241.8L629.1 243.2M657.2 270.6L654.7 270.3M644.0 286.3L645.6 284.6L647.2 288.3M642.3 275.4L639.6 278.8M641.6 252.8L642.3 248.8L638.6 246.8L638.1 248.6M659.0 265.8L655.9 265.2M635.4 248.8L634.2 251.7M654.6 267.0L654.1 265.2L656.6 262.6M627.1 244.9L623.9 243.0L625.3 244.2L627.6 242.1L627.9 244.3M656.1 266.8L658.1 270.3L660.6 269.2L657.1 271.2L654.4 270.7M640.7 252.5L639.9 248.6L635.8 246.8L634.6 249.3M651.1 258.0L655.2 256.9L655.3 259.6M654.4 260.5L657.0 261.7L655.4 261.7M661.1 297.5L662.6 293.7M650.2 296.7L650.2 299.8M638.4 256.7L640.8 259.0L643.7 258.2M637.5 267.1L634.7 268.2L637.8 265.4M651.8 254.7L651.7 252.4M646.1 281.9L644.9 280.2L644.2 277.4M650.5 276.6L651.2 275.1L650.1 276.9L645.9 275.7L642.5 278.3M640.1 258.0L639.1 262.4L638.0 266.0L638.9 267.5M665.5 265.4L661.5 265.0M649.2 300.9L646.2 302.7L647.5 304.3M653.4 254.9L653.1 251.2M660.3 267.7L658.8 268.6L656.1 270.3M664.6 281.7L664.2 279.4L661.8 281.4L659.9 283.0M661.6 291.9L659.8 293.5L656.0 292.6L653.6 293.7L654.1 297.6M649.9 257.2L646.9 256.8L645.9 254.4L643.8 257.0L641.2 260.5M656.5 270.9L653.9 272.5M655.2 297.0L658.4 294.0L655.5 294.2M654.0 301.3L652.7 297.9L654.9 299.3L653.7 300.6M639.4 248.3L638.0 244.7L642.1 244.4L640.4 245.3M638.5 270.0L637.1 270.9L635.4 270.2M651.5 277.8L651.0 276.4M650.7 296.2L652.5 293.5L651.5 291.7L648.3 291.7L648.0 295.2M649.7 301.4L648.1 302.4L650.2 305.5M630.0 243.5L632.8 242.5L630.0 243.1M662.2 279.0L663.6 280.7L663.3 282.3L660.5 279.4M625.9 251.2L622.1 249.0L619.0 250.3L619.0 251.9L622.7 250.2M662.9 256.6L665.8 255.9L668.0 255.2L665.1 257.5M635.3 257.0L639.4 257.5L641.1 258.6L640.0 259.6L642.0 257.8M641.9 258.6L640.1 261.6L642.8 260.9L645.5 259.3L643.3 261.2M641.0 265.1L639.7 263.0L641.7 266.0L643.7 267.2M645.6 291.0L647.0 293.2L646.5 290.6M669.2 269.6L671.4 266.9L675.6 265.3M652.7 265.4L650.1 264.9L648.2 264.7L648.2 261.2M659.2 286.4L657.5 283.7M639.5 262.2L638.1 258.6M635.8 249.2L639.6 250.9M662.4 286.0L664.7 287.0L664.9 288.8M658.3 255.2L659.9 252.8L657.6 250.4L660.4 247.1L661.6 249.5M662.2 281.6L665.7 282.2L661.4 283.3L657.9 285.7L659.9 287.1M643.8 276.3L644.6 278.6L643.4 279.7L642.1 282.9L643.8 286.5M651.5 283.3L654.6 281.7L650.8 279.8L653.7 282.2M655.5 295.2L659.0 294.6M661.1 259.3L657.9 261.2M645.6 259.0L642.1 258.8L643.0 262.2L645.2 259.0L643.1 259.2M636.0 253.8L637.2 256.0M647.6 268.2L651.2 268.3L653.5 270.9M657.9 275.0L655.9 278.4L652.3 277.2M652.8 266.8L653.7 265.2L653.1 267.7L653.6 269.3L653.2 271.4M657.6 265.9L659.1 268.3M651.5 255.7L654.3 256.5M659.7 258.4L662.0 260.3L660.2 261.1L658.7 260.7M667.8 278.6L666.8 277.2L666.7 275.6L665.2 276.8M649.4 294.9L652.4 297.0L651.1 300.2M642.6 278.8L641.5 281.2L639.1 280.3L640.1 278.4M654.2 290.0L657.8 287.5L654.8 287.6L656.1 289.6L654.6 288.8M629.2 239.6L627.0 239.9L625.9 241.0L622.9 238.4L620.9 238.3M628.3 240.6L629.7 239.5L634.0 239.7L635.7 243.0L634.6 244.1M662.4 280.6L659.3 281.2L656.6 280.9M649.9 277.4L654.2 276.7L651.3 274.0M653.3 256.2L656.1 255.3L654.7 253.4L652.4 256.9L654.4 257.2M656.6 265.9L658.5 268.5M650.8 297.9L647.7 297.3L646.2 298.4L648.0 302.2M636.7 268.6L637.2 271.8L639.5 273.8L638.0 272.9L636.6 273.8M650.6 283.2L647.5 280.0M649.0 266.7L644.7 265.5L645.8 268.2L648.0 269.7L646.0 267.8M627.2 239.7L625.4 240.2L628.2 243.3M634.4 244.4L636.2 247.7L634.2 250.8L632.5 247.2M659.3 298.2L662.5 299.1L665.0 301.0L665.6 299.2L668.8 297.6M636.8 249.5L641.3 250.1L637.7 251.5L635.9 251.6L635.8 253.6M656.1 291.0L652.7 290.2L654.2 286.1L656.7 286.3M626.6 248.8L629.1 245.1L628.1 242.4L628.6 246.8L626.1 246.5M649.6 257.1L648.2 256.2L649.4 258.5M646.8 274.3L649.0 273.3L647.5 275.9L647.8 278.1L650.2 275.8M654.3 284.0L654.0 286.3L651.7 286.3M651.5 271.1L653.1 271.0L649.5 269.6M665.6 287.0L664.0 288.8M662.0 293.4L661.0 291.2L661.3 287.5M648.7 278.0L651.2 275.4L649.4 278.5L647.4 274.9M661.4 269.5L663.0 265.4L664.3 267.1M666.3 280.4L663.3 281.4L662.7 283.3L664.9 284.3L663.5 287.8M650.6 297.6L652.5 298.5L655.4 297.0L654.5 299.4M657.1 283.6L658.4 281.5M650.4 286.0L650.5 287.6L653.3 288.4L655.1 286.9M636.2 240.7L634.8 239.6L636.3 235.8M665.7 278.3L666.3 280.7M659.8 278.9L656.8 276.4L658.7 280.1L659.2 278.4L656.3 275.9M655.4 257.2L652.6 254.8L651.8 256.4L652.9 258.0L653.1 256.2M662.9 264.3L661.0 261.6L659.2 264.8M660.5 287.1L658.7 284.6L657.8 281.5L655.8 283.9M637.7 253.3L640.9 255.6L642.8 255.4L641.0 253.4L645.3 252.8M653.2 284.6L656.0 281.7L656.5 278.7M666.9 262.1L665.0 265.9L667.9 268.2M635.4 253.3L634.9 251.1L633.3 253.1L631.3 254.1M665.9 269.2L661.6 269.8L662.2 265.5M631.3 256.4L629.9 259.0M656.7 275.6L657.1 277.2L658.0 273.2L657.8 271.6L658.2 268.8M639.1 269.5L640.7 270.6L640.0 269.0L637.7 272.6M658.3 294.0L656.5 292.9M651.7 282.1L655.7 283.4M628.0 244.1L631.0 243.6L633.2 243.6L629.9 242.7L625.6 241.5M649.6 291.2L648.4 293.0M633.2 254.1L635.3 253.7M646.1 255.2L644.5 251.1L647.0 248.5L645.1 249.9M643.0 261.9L644.4 257.9L642.9 256.3L638.5 256.2L637.2 252.8M658.3 263.2L657.2 260.6L655.8 258.1L653.2 256.8M655.1 267.4L651.3 264.9L651.7 268.3L651.6 265.7M658.1 262.4L655.4 260.1L654.0 263.2L651.9 262.6M667.3 267.6L664.4 267.2L664.7 269.1L667.5 267.7M649.4 271.1L649.5 273.1L650.8 270.5L648.2 267.4M663.7 289.8L660.6 291.8M642.4 260.6L640.8 261.1L637.2 263.8L636.2 261.1M647.2 288.6L649.1 288.6L645.7 288.9M654.0 270.8L653.9 274.0L656.2 274.0L654.1 272.7L650.1 271.5M636.9 254.1L639.7 256.0L641.1 254.4L637.6 256.2L635.7 254.4M638.7 263.4L637.1 265.5L633.4 263.4L635.0 267.6M658.1 261.1L657.3 262.6L657.4 259.9M649.5 269.1L651.9 271.1M633.2 241.2L630.2 241.4L631.8 238.2L631.6 235.5L635.0 236.4M650.8 286.7L652.3 288.2L655.8 290.0L657.3 291.0L657.3 287.9M658.1 268.2L654.5 267.0M654.1 257.7L652.6 257.5L654.9 257.4M637.2 257.2L636.0 255.2L632.7 257.7L631.7 255.5M636.6 261.6L638.0 259.8L638.5 261.4L635.9 260.8L633.0 261.4M652.1 260.6L653.5 264.7L651.9 264.1L650.7 267.0M644.0 273.5L646.1 274.0L644.2 274.8L645.3 279.0M653.4 263.2L654.0 265.2L655.7 268.9L657.1 270.3L660.0 267.6M658.5 284.6L655.0 284.7L653.9 282.5M634.6 243.5L635.2 245.2M627.3 251.5L626.6 248.7L622.9 250.6L624.6 249.7M660.3 293.5L659.3 290.0L658.4 292.1L656.4 291.5M631.9 248.9L631.1 247.2L632.0 245.6L636.0 243.5M668.7 271.0L667.1 271.1L668.0 267.0L669.7 265.9M638.0 256.6L638.9 259.3M660.7 286.4L658.6 285.3L657.0 284.4M625.1 249.6L624.1 248.2L622.7 250.7M650.6 287.9L649.1 288.3L647.3 288.1L646.2 286.6L643.9 285.4M642.4 279.8L640.2 282.5L641.5 283.3M655.0 291.1L656.0 292.5L657.4 291.2L654.3 291.3M648.6 260.7L647.9 263.8L652.1 263.5M658.8 271.5L660.0 270.6L662.8 269.5M661.8 273.8L663.5 274.9L665.9 271.1M644.7 277.3L643.6 281.4M661.5 282.9L662.2 281.4M649.8 260.3L647.4 258.1L648.3 256.0M663.5 276.3L667.3 276.6L665.2 277.9M642.6 266.8L643.9 268.7L645.2 270.2M646.4 270.6L649.8 270.5M653.9 277.9L656.7 276.0L655.4 274.5L652.9 272.0M662.8 260.1L659.8 258.3L656.3 258.5L654.2 258.5M660.1 269.3L660.0 265.8M663.3 282.0L660.9 284.0L663.5 283.0L663.5 280.0L661.7 277.4M664.6 266.6L661.2 265.2L657.7 263.4L659.0 262.4L657.7 260.3M658.2 290.1L659.3 287.8L662.0 289.4L663.2 287.4M657.3 292.8L660.0 292.9L661.7 293.1L662.7 290.7M657.5 276.1L655.9 275.6L653.8 277.3L656.1 277.8M665.8 273.9L668.1 276.1L671.6 277.1M645.3 267.9L644.0 269.5L646.3 267.6M665.9 273.4L664.4 276.7L665.1 273.8L667.6 270.7L666.4 271.7M647.1 280.9L646.9 277.7L650.2 277.4L650.2 274.2M647.3 274.3L643.7 275.6L641.7 278.1L640.0 276.3M655.1 285.8L651.9 285.9L655.6 286.3L657.0 285.2L655.3 286.7M654.9 262.7L657.1 263.2L659.6 266.2L661.1 265.0L658.6 263.4M661.7 284.2L660.2 282.7L660.4 281.2L658.0 280.4M658.5 277.7L657.7 275.6L659.3 278.1L660.9 275.1M650.1 262.2L651.8 265.0M644.9 269.7L641.6 267.7M662.5 271.8L662.0 275.5L659.0 276.0M659.8 271.9L656.8 274.5L656.6 276.5L658.8 275.1M662.6 269.8L662.1 272.6L660.2 269.6M651.9 259.4L649.5 262.2L647.3 261.8L645.8 260.3L646.0 258.7M664.0 280.9L662.1 279.5L665.7 279.0L667.0 277.8M657.5 292.4L659.2 291.6M661.5 261.2L658.5 263.6L658.4 261.2L655.6 263.4L654.5 265.0M655.1 285.5L656.7 287.2L659.0 288.2L655.4 288.2M659.4 281.4L660.1 284.7L660.8 281.5L661.9 280.1L662.5 283.6M646.9 261.5L649.6 259.5L651.0 256.7L652.3 255.4M660.4 287.0L659.6 283.6L657.4 281.9L654.5 279.6M649.0 271.8L646.9 274.3M658.2 262.1L654.3 262.0L651.8 260.4L654.6 261.0M653.6 277.3L651.9 275.6L650.5 278.1L651.2 281.5M663.5 279.6L663.8 281.5M663.5 267.8L666.3 269.0L665.9 266.1L663.6 267.7M657.1 266.0L658.4 262.3M643.9 276.0L645.0 278.8L646.4 280.0L646.5 278.4L647.8 277.4M662.5 290.8L662.8 288.8L663.0 285.2M648.6 290.6L651.5 289.0M660.9 258.8L657.7 260.5L655.6 257.9M655.6 280.5L653.5 279.6L652.4 281.0M661.4 286.4L664.3 284.3L662.6 284.8L664.1 286.0L664.5 283.4M663.0 277.0L664.7 274.7L664.7 277.1M650.3 284.9L649.3 281.1L651.9 280.8M661.2 272.9L662.3 274.0L662.9 276.9L661.8 278.0L663.5 274.9M653.4 257.9L654.9 256.1M656.2 276.3L658.2 276.4L656.0 279.3M656.6 296.5L656.8 293.6L656.1 290.0L657.6 292.7L660.2 289.7M660.8 276.7L659.4 275.6L656.9 275.6L655.8 272.3L657.0 271.3M656.4 288.8L654.2 286.3L655.9 286.7M666.7 267.6L664.0 268.1L667.3 267.2M657.9 270.2L659.2 269.5L660.9 267.1L662.1 264.7L659.9 262.6M663.2 259.4L661.6 256.8M653.3 285.5L656.8 286.0L657.8 283.6M646.0 274.9L644.7 273.8M655.1 285.8L654.6 282.2M650.7 269.3L652.5 271.7L655.9 271.3L657.5 271.3M657.4 278.9L661.2 278.5L659.3 277.6L659.5 274.2L660.9 275.0M659.4 261.9L660.0 260.4L658.3 258.9L658.2 260.7L659.1 257.2M644.7 263.2L645.0 259.6L648.4 259.5L648.0 261.6L646.7 262.4M666.7 270.5L669.4 268.2L667.7 267.9M663.9 269.8L662.0 271.9L663.9 271.5L660.8 270.9M655.6 297.3L658.2 296.1L658.7 293.1L657.4 291.4L657.6 287.7M660.7 275.0L662.7 274.9M652.7 286.2L652.7 284.1L652.7 285.7L651.9 283.8M658.7 282.0L656.0 280.1M648.8 258.8L647.2 258.4M661.0 284.5L663.3 283.3L665.0 282.0L662.4 284.0M653.4 270.2L656.9 270.9L657.4 274.5M663.3 285.5L660.7 283.0L662.3 283.7L662.9 280.6M649.0 267.6L650.1 268.9M658.9 281.1L661.0 281.9L660.5 285.7M667.1 271.6L669.4 274.3L669.4 276.7M655.2 260.9L656.8 259.9L657.0 256.0M664.7 266.6L664.6 268.1L666.6 269.5L665.1 271.2L662.4 271.6M654.3 273.8L652.4 274.1L652.7 276.6L653.9 277.8L652.2 279.8M642.1 265.8L638.7 264.4L642.2 263.5M655.2 266.5L652.9 266.4L655.1 268.0M653.6 297.6L655.9 298.8L655.1 300.7M659.2 271.9L658.5 269.3M647.5 278.4L645.5 275.9M662.4 285.2L661.3 283.7L662.6 280.1M661.5 293.7L659.7 291.1L659.3 289.7L656.1 290.5M653.0 293.4L651.3 294.1L652.5 297.2L649.2 295.3M651.7 285.9L649.9 288.0M659.5 265.3L660.5 267.8L659.2 271.1M645.1 274.2L642.0 272.7M657.6 276.9L659.0 278.5L661.8 281.2L662.9 282.7L660.0 282.3M646.8 263.4L647.3 261.3L645.5 260.4L647.4 263.2L650.6 262.5M661.9 263.7L659.4 265.1L661.4 262.2M658.9 278.6L656.4 279.5M655.4 285.9L658.5 283.6L659.1 285.2L661.5 283.4M647.4 266.4L649.5 265.8L650.9 262.9L653.9 264.0M646.2 270.4L643.9 271.2M665.8 276.5L666.3 274.5L662.7 276.1L663.4 278.5M650.4 285.2L651.9 286.7L652.3 288.8L654.1 289.2M651.8 274.5L649.2 275.0M649.6 279.9L648.9 277.4L650.1 279.8L653.3 280.2M644.7 272.3L646.3 269.6L644.1 267.2L646.0 266.7M662.2 269.2L663.1 270.7L660.0 271.5L660.2 269.9M652.0 280.7L653.3 281.3M640.1 266.1L642.9 264.1L643.1 265.6L644.6 266.5M645.8 276.7L643.5 276.4M652.1 277.1L650.2 280.4L650.0 282.5L651.5 283.2M665.2 270.5L667.1 272.8L670.6 272.6L670.6 269.0L668.6 270.0M641.9 262.7L643.1 259.4L643.3 261.1L641.8 258.6L643.0 260.2M656.9 260.7L657.0 262.9L654.5 264.2L654.3 262.6L653.9 260.6M648.4 284.2L645.6 281.7L646.3 283.9L645.1 282.0L646.3 283.7M662.4 292.4L660.1 294.1L658.9 297.3L658.0 299.4M649.4 266.4L652.8 264.9L650.8 265.3M655.1 272.0L651.7 271.3L653.1 272.4L651.0 274.1L650.9 277.3M658.9 308.0L658.0 306.4M659.6 308.7L662.7 309.1M654.6 304.1L656.5 301.4L656.0 299.5L654.2 299.9M656.1 298.5L657.0 296.0L655.3 294.7M656.8 302.7L655.6 301.5L656.2 298.1L657.7 297.0M661.8 304.6L659.9 304.4M660.0 310.5L663.3 310.0M655.1 303.4L654.6 301.3L656.6 298.0L660.2 299.3M654.7 308.7L652.7 309.9L653.7 311.7L651.3 311.0M656.3 309.9L654.6 308.4L655.7 310.1M654.8 299.1L656.4 300.7L653.3 302.4M661.7 305.5L664.2 304.6L665.2 307.4M655.4 298.7L654.0 300.7M661.3 301.4L660.4 299.1L662.5 302.1L661.2 301.4M662.5 307.7L659.2 307.5L657.5 304.0M660.2 298.5L658.5 295.7L660.2 295.1L657.8 297.8M702.5 260.1L701.3 262.7L700.7 266.1L698.8 268.5L697.4 272.6L698.2 274.7L697.2 279.0L697.2 282.3L697.6 285.8L697.1 290.2L697.2 293.0L696.7 296.3L697.2 300.5L694.6 303.3L693.0 307.0M693.8 261.8L694.0 265.4L692.3 268.4L692.5 271.5L692.5 274.2L691.8 277.3L693.0 280.4L692.2 283.3L692.5 287.4L693.0 290.0M670.3 318.5L673.0 316.3L675.5 314.0L678.0 312.7L679.6 311.3L683.8 310.2L686.2 310.1L690.0 309.0M602.5 302.5L606.0 306.0L604.0 313.0L606.0 321.0L603.0 316.0M321.0 412.0L325.0 407.0L330.0 404.5L332.0 408.0L326.0 411.5L323.0 415.0L321.0 412.0M320.0 420.0L319.5 428.0M316.2 430.1L317.9 433.6L318.6 437.7L321.6 442.9L325.0 447.5M337 468.5h1M338 471.5h1M342 485.5h1M343 488.5h1M345 494.5h2M355 357.5h2M360 355.5h1M349 366.5h1M395 371.5h2M392 369.5h1M366 358.5h1M547.5 468.0L557.5 468.0L557.5 471.0L547.5 471.0ZM567 459.5h2M557 457.5h1M561 463.5h2M562 464.5h2M563 453.5h2M558 461.5h1M567 464.5h2M564 460.5h2M566 457.5h2M566 456.5h3M541.0 396.0L550.0 394.0M510 498.5h1M514 500.5h2M502 493.5h1M503 494.5h1M505 495.5h1M507 502.5h1M511 498.5h1M506 487.5h1M513 489.5h1M514 490.5h2M516 499.5h2M514 492.5h1M509 490.5h1M505 493.5h3M515 487.5h1M508 487.5h1M509 502.5h3M510 498.5h3M507 486.5h2M516 487.5h3M517 488.5h2M507 494.5h2M506 493.5h2M511.0 496.9L508.1 497.2L509.0 500.0M513.3 488.4L511.8 487.3M515.8 489.4L514.2 490.3M508.6 493.2L508.6 491.4M508.9 490.0L511.4 489.9M513.7 486.0L515.3 485.8M499.6 508.6L496.3 512.0L496.8 516.3L498.1 519.5L496.6 524.8L495.0 528.0M506.5 529.7L506.0 534.5L506.8 540.3L507.5 545.2L506.2 549.9L505.1 553.8L505.0 558.0M504.2 565.9L500.9 569.0L497.0 570.9L494.9 575.4L491.4 580.5L488.9 584.0L485.9 586.8L485.5 590.6L485.8 594.8L484.9 598.6L484.1 602.5L480.1 604.0L474.8 606.1L469.5 608.5L465.0 611.3L461.5 613.2L457.1 616.5L460.7 619.7L464.8 622.8L469.2 625.9L472.4 629.0L475.7 632.1L480.6 633.5L484.3 636.2L486.9 639.5L491.3 641.0L496.2 644.0L499.8 645.5L504.1 642.5L507.8 639.9L506.5 644.6L504.9 650.5L507.9 653.0L512.2 656.1L515.0 659.6L519.0 663.5L522.9 667.8L524.0 671.9L525.5 677.5L529.3 681.3L531.9 685.5L534.7 689.7L537.9 693.4L541.0 697.5M489.2 614.2L487.6 615.4L490.3 617.1L492.7 617.0M484.4 613.4L486.9 614.0M498.3 597.8L500.9 599.0M501.8 619.9L499.4 622.1M500.2 610.6L499.2 614.3L500.3 611.9M481.4 608.6L480.6 607.3M482.4 621.6L485.6 622.5L486.2 620.8L485.4 622.3M492.0 614.8L493.7 617.9L490.7 619.9M481.9 607.4L483.6 607.4M495.4 618.5L498.1 616.8L497.9 618.5L498.5 616.9M483.3 600.0L485.3 601.1L482.2 599.2M496.0 610.5L492.3 611.9L493.1 608.4L490.9 607.9M482.9 614.9L481.0 616.9M492.1 601.8L491.1 600.3L493.7 600.6M449.0 603.0L450.0 608.0M549 699.5h2M550 700.5h2M550 705.5h1M551 706.5h3M552 707.5h2M551 698.5h2M550 701.5h2M550 704.5h1M550 701.5h1M526.6 678.5L527.6 675.1L528.6 672.8L530.7 669.8L533.2 667.9L536.4 666.1L537.6 663.6L541.2 663.4L545.4 664.5L546.7 661.2L549.1 660.8L551.1 657.3L553.7 655.8L556.9 653.6L557.3 651.3L560.9 651.1L563.0 648.5L566.3 647.5L567.7 645.7L570.4 644.5L573.3 643.6L576.0 640.2L577.5 639.0L580.0 637.0M531.0 685.0L533.0 682.2L533.4 681.4L536.5 678.4L537.6 676.9L539.1 676.4L541.9 674.7L545.1 672.5L546.7 671.9L550.7 669.5L551.9 668.9L554.8 666.0L556.1 665.2L558.7 662.8L559.9 661.5L562.4 661.2L565.8 657.5L567.0 656.4L569.8 655.3L572.5 653.0L574.8 651.9L578.0 650.1L581.6 647.9L583.0 650.7L582.2 653.8L583.7 656.4L583.8 659.2L584.9 662.7L585.6 664.5M534.3 690.9L538.2 688.9L539.9 687.7L542.4 684.8L544.5 684.0L545.1 682.8L547.9 679.3L550.8 678.4L554.3 676.4L555.7 675.4L557.7 673.8L560.2 672.1L563.6 670.7L565.8 670.7L568.7 668.6L570.5 667.5L573.7 665.9L576.7 663.7L579.5 664.3L580.3 664.3L582.7 663.3L586.0 664.0M539.0 697.8L541.8 694.6L545.8 693.6L547.3 692.5L549.1 690.7L552.4 689.3L555.3 689.1L556.1 686.8L560.3 685.1L561.8 683.1L564.1 683.0L566.1 679.9L567.3 678.6L570.6 677.6L572.4 676.5L575.0 675.4L576.9 673.4L580.4 672.5L582.2 670.9L585.6 670.1L589.0 670.0M522.9 662.6L524.2 665.7L525.0 668.5L525.6 670.3L527.9 673.2L528.5 674.7L528.7 678.5L530.0 680.0L532.2 682.4L533.8 683.8L536.1 686.1L538.1 690.4L538.0 692.2L540.5 693.4L543.7 696.4L544.5 698.1L547.0 701.0M546.8 678.1L549.5 678.5L551.1 679.2L549.7 677.8M544.7 695.2L548.1 691.6M554.4 687.7L553.0 687.3L555.3 688.2M546.5 696.9L543.0 695.8L544.3 694.2L543.3 691.3M575.2 667.4L577.3 666.5M533.7 666.4L531.1 667.0L527.4 667.4M570.5 664.1L568.1 667.4M567.5 664.4L567.7 661.4L569.7 665.9L570.9 670.5M567.2 654.9L567.9 653.2L567.3 656.9L564.5 657.2M562.7 653.1L564.3 648.8L562.9 652.8M536.3 673.2L534.9 671.8L535.3 669.3L538.1 666.1M554.2 680.4L554.9 682.1L552.1 683.8M580.0 663.3L583.3 665.6M578.4 649.7L575.5 649.0L571.1 648.9L575.8 649.4M574.1 674.2L569.9 676.0L573.6 675.6L569.7 673.0M531.6 674.4L532.3 676.5M543.3 690.0L541.0 690.2L540.0 693.1M550.3 687.3L546.7 689.4L548.0 688.0L548.0 684.9M541.5 661.0L541.7 658.1L544.3 656.9M554.4 666.2L556.0 663.5L557.3 666.1L559.5 664.2M567.7 673.6L572.1 672.2L575.4 672.1M535.1 681.1L536.6 680.9L534.0 678.2M578.6 668.2L580.7 666.1M536.6 663.6L535.7 662.3M554.5 659.5L554.7 661.2L556.4 661.8L558.8 662.4M545.9 686.8L544.9 683.2L542.2 680.1M581.7 647.1L580.2 651.7L578.0 653.7M547.3 678.8L544.1 681.4L543.7 683.2M530.5 666.9L532.2 669.3M564.6 661.7L561.6 661.3L565.9 659.6L566.2 663.0M546.2 675.2L546.3 673.3L547.2 670.5L542.9 670.4M576.6 661.8L578.0 662.7L574.3 662.6M576.9 673.2L574.9 672.9L576.2 670.3L576.2 672.6M578.4 642.8L581.7 642.3L580.3 640.2L582.1 640.9M553.7 674.3L550.2 672.2M544.7 669.8L543.3 669.1M555.4 659.5L554.8 663.2L558.5 665.4L556.2 665.5M534.9 670.5L534.2 673.0L534.3 677.7L530.7 677.4M563.9 654.5L566.1 653.6L567.6 650.3M579.8 650.5L578.0 646.1L576.3 647.4M567.0 658.0L568.5 661.5M559.7 665.2L562.5 664.4M569.1 651.7L567.8 647.9L566.0 645.5L563.1 644.1M587.6 667.9L587.8 672.0M544.1 687.2L542.3 690.4L546.9 689.9M539.0 672.8L540.0 674.5M562.1 652.7L564.3 650.2L566.4 652.9M541.2 668.0L543.0 665.8L547.9 665.8M570.6 674.9L573.2 676.6L573.6 678.2L572.1 677.5M563.5 677.7L564.9 674.1L560.8 672.7L562.7 675.5M544.0 663.9L548.1 666.6M548.2 666.0L549.5 662.8M547.6 695.7L545.9 695.6L545.8 699.7M544.4 665.8L541.5 666.9L541.7 664.2L544.5 666.6M576.5 654.9L574.8 651.3L575.4 653.5L574.3 651.6M533 692.5h8M534 693.5h8M536 694.5h5M564 641.5h5M565 642.5h4M574 661.5h5M556 676.5h5M557 677.5h4M573.7 698.4L577.0 694.9L580.5 693.8L582.3 690.9L584.9 688.0L588.8 687.0L590.8 683.7L593.0 681.6L596.0 680.0M576.3 698.9L579.7 696.9L582.9 693.6L586.6 691.2L587.8 690.5L590.9 687.6L594.3 685.2L596.0 684.0M580.5 718.6L581.6 714.7L582.0 711.1L582.4 707.8L582.5 705.7L582.7 701.9L583.0 699.0L582.0 696.0M574 699.5h6M575 700.5h5M576.3 748.9L574.8 749.9M582.2 755.2L585.5 755.7L582.1 756.4L583.4 754.5M578.6 751.8L577.9 755.5L579.7 752.2L579.7 755.2M572.0 750.7L570.3 749.1L566.6 748.1L563.1 746.5M577.4 756.9L574.1 758.5M579.4 753.2L577.5 751.3M579.4 752.8L578.6 755.9L580.6 758.5L579.5 755.2M568.1 756.2L568.7 754.2M572.1 750.0L571.3 746.2L571.6 743.2L573.8 745.9M584.8 748.9L582.3 748.7L580.3 751.5M566.1 753.0L567.5 752.4L567.1 755.1M588.2 749.5L585.9 751.2M587.9 748.6L590.1 749.6L592.7 748.4M562.2 755.9L560.3 755.8L561.8 752.6M567.3 756.5L567.5 757.9L569.9 755.3M563.8 754.9L561.4 752.2L563.7 752.0M585.2 756.3L584.5 753.9L586.5 756.4M574.0 755.3L572.2 754.8L574.6 751.9L574.7 755.1M580.5 749.1L580.8 746.8L582.6 748.1M583.4 752.2L584.3 753.7L582.2 756.7L583.1 758.1M582.8 748.8L581.4 749.9L579.8 750.3L582.7 749.3M564.4 751.6L564.6 755.0M581.7 755.1L579.4 757.8L580.6 756.7L578.6 757.7M564.4 751.9L563.7 755.5L561.9 753.4M572.0 756.3L569.2 757.2M586.0 750.3L584.4 751.6L583.4 748.6M575.8 749.7L573.4 750.0M585.3 756.0L583.5 753.8L583.2 752.1M572.4 749.4L570.2 749.2L567.7 750.1M587.5 756.2L583.6 756.7L586.0 759.6L583.7 756.8M573.0 756.9L572.5 759.7M575.4 755.9L574.0 756.6M589.9 754.6L590.9 751.4L594.2 753.5L594.7 755.9M573.0 753.2L575.9 752.1L574.8 753.5L577.3 754.6M577.9 752.0L576.4 749.5L575.0 748.0M579.2 752.6L578.0 754.7L581.3 754.7M562.1 752.5L562.5 754.1L563.8 756.1L564.5 752.4M567.9 755.0L569.9 753.5L572.8 755.1M566.0 749.9L563.2 752.5M584.8 750.7L586.2 752.5M566.6 758.7L565.0 758.9M572.7 765.8L570.0 768.6L569.7 771.3M561.2 767.7L563.9 765.7L566.1 768.2L567.4 765.0M559.3 761.3L558.0 758.8L556.8 757.4M564.7 760.2L567.3 760.4L569.6 757.9M572.4 761.2L570.5 760.3M562.2 765.9L562.4 762.9L563.9 759.3L561.1 762.1M558.2 769.3L555.5 767.6M570.6 766.1L571.5 769.4L568.3 768.4M567.8 757.5L566.2 760.6M571.9 761.1L572.2 758.0L569.1 759.2L568.1 757.4M568.7 765.4L572.0 763.2L570.8 764.1L569.7 767.8M561.9 759.1L561.7 757.3L561.7 755.4M559.9 760.5L557.3 762.1L553.7 763.2L554.0 760.0M576.4 761.8L580.1 760.6L582.4 760.8L581.6 762.6M566.6 769.6L566.2 766.5M563.6 764.2L565.2 766.0L563.7 764.2M568.2 763.0L565.9 761.7M564.1 764.4L566.6 765.0L565.0 763.5L566.2 766.0M576.2 760.4L574.9 759.3L578.2 757.6M558.7 766.8L560.9 769.2M567.9 769.1L566.9 767.3L565.1 765.5M577.7 759.6L576.7 761.1L575.1 763.3L571.4 762.9M577.1 765.8L574.5 763.3L575.9 764.7L576.1 762.1M576.6 761.7L577.6 765.0L580.3 765.4M567.8 759.8L569.4 759.1L571.4 756.3L571.4 753.3M560.0 770.4L561.1 773.1M570.8 762.1L568.0 763.9M558.9 770.1L559.8 767.6L559.5 769.9M574.3 768.6L572.6 768.7M575.2 766.5L576.4 769.6L579.4 770.8M568.6 768.8L567.4 767.9M576.5 763.1L575.3 761.3L577.5 760.1L574.9 758.9M563.4 763.5L563.3 761.4M560.9 769.6L559.9 767.6L557.5 767.8L559.6 766.3M571.9 764.1L569.0 764.1M575.0 769.2L574.0 766.6L572.2 766.7M568.2 768.2L564.4 768.1M563.6 758.2L560.5 759.0M569.4 769.5L567.5 769.0L565.7 768.8L567.4 770.0M598.5 762.8L597.2 758.9L597.3 756.4L597.0 754.2M600.2 758.1L601.5 760.5L603.5 756.6M603.9 760.7L599.2 760.1L597.4 759.1L596.7 757.6M600.7 755.2L602.8 757.3M597.3 755.3L594.0 754.9L595.4 756.9L594.4 760.3M597.7 753.5L595.3 755.4M601.0 754.2L599.2 753.4M607.1 759.5L609.1 758.2M602.7 755.6L606.0 752.3L604.2 753.0L605.9 757.0M605.4 754.2L601.3 751.5L600.6 748.4M604.1 749.2L602.5 746.4L606.2 743.4M601.6 749.7L604.5 749.8L600.5 749.8L604.0 749.7M597.7 751.7L600.7 753.7L603.0 750.3M604.0 749.1L606.3 749.4L608.3 748.6L603.8 748.6M597.9 753.5L599.1 755.7M599.3 752.3L598.1 749.5L597.7 747.0L597.0 744.9M601.4 758.0L602.9 759.6L601.5 762.1M604.7 754.9L606.7 754.6L605.6 755.9M560 766.5h1M558 767.5h2M560 761.5h2M560 765.5h3M561 766.5h1M559 770.5h3M560 771.5h2M555 770.5h1M556 771.5h2M611.0 735.0L612.0 755.0M612.0 741.0L617.0 741.0M628.0 762.0L628.0 766.0M640.1 527.3L644.7 528.5L649.8 529.7L655.3 531.3L660.2 529.7L665.2 527.3L669.5 525.7L673.9 524.4L678.7 522.8L682.5 521.0M685.0 516.0L690.0 514.0M628.0 527.0L640.0 526.0M720.9 450.7L727.5 447.3L732.8 444.2L738.0 443.6L742.3 442.6L748.2 443.9L751.4 448.8L753.6 453.7L757.1 459.2L759.6 463.7L755.2 463.4L750.9 464.2L746.7 463.9L742.9 463.6L739.0 464.0M737.4 465.6L735.3 467.0L733.9 470.2L731.9 472.1L730.5 474.5L727.7 477.8L726.3 481.2L724.5 484.7L722.5 487.5M718.0 488.0L724.0 480.0M716.0 492.0L714.0 495.0M760.4 464.0L764.0 467.8L768.5 470.8L772.6 474.9L777.3 478.1L780.8 480.5L785.2 481.4L789.2 483.8L794.4 483.9L800.0 485.0M805.2 487.8L806.9 490.9L809.5 494.2L811.9 498.1L814.7 500.6L817.7 502.8L819.8 506.5L823.8 509.2L827.0 511.4L830.3 514.1L832.5 517.2L835.5 521.5L836.5 524.6L837.4 527.9L838.2 532.4L837.7 536.8L836.4 540.2L836.0 545.0M826.3 548.2L825.4 550.8L824.7 554.3L824.5 557.3L823.8 559.8L824.5 563.2L825.4 565.9L825.7 568.9L826.4 572.3L829.0 576.0M796 558.5h1M799 560.5h1M801 561.5h2M739 520.5h1M705 509.5h1M692 506.5h2M690 490.5h1M724 589.5h1M724 587.5h2M724 599.5h2M730 601.5h1M727 625.5h1M728 626.5h1M729 595.5h1M730 596.5h2M727 601.5h1M727 585.5h2M728 586.5h1M731 630.5h3M732 631.5h2M725 610.5h1M726 611.5h2M728 602.5h3M726 629.5h1M727 630.5h1M727 616.5h2M728 617.5h1M728 604.5h1M729 605.5h1M725 622.5h2M725 611.5h1M783 683.5h2M787 694.5h2M788 695.5h1M785 702.5h3M779 672.5h2M789 713.5h3M797 713.5h1M798 714.5h1M777 683.5h2M785 682.5h3M768 666.5h3M769 667.5h1M773 673.5h2M785 695.5h3M784 696.5h3M769 666.5h1M787 706.5h1M823 735.5h1M834 762.5h1M822 740.5h1M833 753.5h1M839 763.5h1M828 754.5h1M841 764.5h1M824 748.5h1M825 749.5h2M816 734.5h2M817 735.5h2M829 750.5h1M825 741.5h1M820 743.5h3M823 742.5h3M832 751.5h1M828 750.5h1M820 743.5h2M821 744.5h2M817 729.5h2M840 764.5h1M841 765.5h1M827.0 766.8L833.4 769.0M706.0 703.2L716.0 702.5M777 631.5h1M782 695.5h2" stroke="#000" stroke-width="1" fill="none" shape-rendering="crispEdges"/>
<path d="M465.2 130.1L468.5 131.3L472.0 133.0M474.1 133.6L476.7 136.4L479.7 138.4L482.0 140.3L485.0 142.5M478.0 135.1L481.9 137.2L486.0 139.0M490.4 143.7L493.5 146.3L496.6 148.0L500.0 150.0M505.5 151.5L508.2 153.0L511.5 155.2L514.4 155.7L517.5 157.5M522.1 160.0L525.5 161.5L528.6 163.3L531.8 164.4L535.0 166.0M546.4 172.2L551.0 174.0M556.2 170.9L559.3 171.6L562.5 172.9L564.6 173.8L568.0 175.0M577.9 177.5L580.9 179.7L584.2 181.4L586.8 183.0L590.0 185.0M594.2 186.4L596.5 187.7L599.0 190.0M607.3 189.9L609.7 191.1L613.0 193.0M619.3 196.3L621.5 198.6L623.7 201.1L626.0 204.0M634.5 209.9L636.1 212.8L638.3 215.0L640.0 217.5M642.3 222.5L644.6 224.6L647.5 226.0M655.9 232.9L660.0 235.0M669.8 234.9L672.3 237.4L674.7 239.5L677.7 242.3L680.0 245.0M689.7 259.8L695.0 262.5M646.4 270.0L648.6 269.1L647.9 266.6M662.6 287.9L661.4 286.7L658.7 287.5M648.1 257.6L649.8 259.4L648.2 258.0L650.9 259.2M662.4 275.2L664.1 277.5M660.8 288.4L660.0 291.3M643.9 260.7L642.7 263.6M657.5 273.9L658.9 276.6M652.3 270.9L654.2 269.3M656.0 260.0L658.7 258.9L657.3 260.2L658.5 263.1M662.0 273.3L661.8 271.6M649.8 266.9L646.7 266.7L645.5 263.4M657.8 269.8L657.8 267.6L658.7 269.8L660.1 266.9M662.1 282.7L664.2 282.0M647.7 272.1L646.0 270.6L645.3 273.9M661.9 289.9L662.0 287.9L664.7 286.4L667.7 286.2M661.9 291.8L659.7 291.7L657.8 292.5M647.0 287.4L647.9 285.4L649.7 282.7L651.0 281.5M659.6 284.7L660.5 281.6M653.6 276.3L655.0 274.9L653.9 276.6L655.6 277.9M646.6 259.1L645.0 259.1M649.0 277.0L648.0 279.5L649.9 278.0M649.0 294.5L651.4 293.1L654.6 293.0L656.8 294.0M646.6 265.2L644.4 267.8L643.8 266.1L645.1 265.3M657.1 275.0L659.5 277.6L660.4 279.5L657.4 279.2M657.5 258.5L660.1 256.2L658.0 257.1M660.6 296.9L659.0 300.0M541.2 394.3L543.9 394.9L548.2 396.3L551.8 397.7L554.9 399.9L554.7 402.1L555.3 405.9L557.5 407.9L556.9 409.4L558.5 412.2L561.3 414.2L562.6 417.8L561.2 420.2L562.0 423.3L561.0 426.0M568.9 421.7L572.2 421.5L574.8 423.3L575.9 425.7L575.6 426.9L575.2 429.8L576.3 431.6L577.5 435.5L578.0 436.6L579.5 439.8L580.3 442.6L580.4 444.8L580.8 448.3L580.8 450.2L579.7 452.3L579.6 455.7L579.0 458.0L577.6 460.9L575.8 462.2L574.5 464.6L571.9 465.6L570.1 467.5L566.8 469.5L564.2 470.8L563.0 469.7L560.5 470.8L557.5 471.0M724.7 574.7L724.3 578.1L725.6 579.1L724.1 581.1L726.2 583.0L726.0 586.3L725.6 588.6L725.5 590.9L724.9 593.9M725.1 594.6L726.4 598.1L726.9 600.7L727.3 601.7L725.4 604.5M727.2 606.7L726.8 610.5L726.1 612.3L727.9 615.2L727.4 617.1L727.8 620.7M729.5 622.5L729.1 625.1L730.1 627.8L730.5 630.4L732.4 631.9L733.4 635.2L734.5 638.0L734.6 640.3L737.9 640.9M740.6 644.4L743.4 645.1L745.5 647.2L745.4 647.1L747.4 649.0M749.9 649.3L752.2 649.9L755.2 652.5L756.4 653.4M757.8 655.5L759.8 658.1L763.1 659.3L764.7 659.6L764.7 661.9L766.2 663.7L769.6 666.3L771.1 666.7M771.0 668.0L772.3 670.1L774.1 672.7L775.7 675.4L776.7 676.9L778.3 679.8L779.5 681.4L780.4 683.0L780.9 685.4M785.7 690.3L787.2 692.1L787.6 692.7L788.4 696.0L791.2 696.7L790.2 699.3L792.2 701.9M792.9 704.5L794.7 706.6L795.9 707.4L796.8 710.9M798.9 712.6L799.0 714.0L801.7 717.1L803.2 717.2L803.0 721.2L804.4 723.2M807.3 725.8L807.5 728.1L808.8 731.3L810.9 733.2L810.6 735.0L811.3 736.1L814.6 737.8L814.8 740.4L816.0 742.6M820.4 745.1L821.4 747.7L822.1 749.0L825.8 752.5L826.5 754.3L829.4 756.5L830.5 756.3L832.4 759.1M834.8 759.7L837.1 760.4L838.4 762.6L839.5 763.8L841.0 764.3L844.0 764.7L845.7 766.7M127.5 737.5L131.0 734.0M133.0 733.0L137.0 731.0M141.0 728.5L146.0 726.0M150.0 724.5L153.0 723.5M157.0 722.0L160.0 721.5M164.0 721.0L168.0 720.0M175.0 718.5L178.5 716.5M223.0 710.0L227.0 713.0M227.0 713.0L231.0 719.0M239.0 739.5L240.0 744.0M240.5 745.0L243.0 751.0M247.0 755.0L249.5 756.5" stroke="#000" stroke-width="1.7" fill="none" shape-rendering="crispEdges"/>
<g filter="url(#nf)"><text transform="translate(170 546) rotate(-52) scale(1.07 1)" x="0" y="6.1" text-anchor="middle" font-family="'Liberation Sans',Arial,sans-serif" font-weight="bold" font-size="17.2" fill="#000" stroke="#000" stroke-width="0.4">600 ft</text></g>
<g filter="url(#nf)"><text transform="translate(421 110.5) rotate(10) scale(1.07 1)" x="0" y="6.1" text-anchor="middle" font-family="'Liberation Sans',Arial,sans-serif" font-weight="bold" font-size="17.2" fill="#000" stroke="#000" stroke-width="0.4">600 ft</text></g>
<g filter="url(#nf)"><text transform="translate(458 380) rotate(36) scale(1.07 1)" x="0" y="6.1" text-anchor="middle" font-family="'Liberation Sans',Arial,sans-serif" font-weight="bold" font-size="17.2" fill="#000" stroke="#000" stroke-width="0.4">600 ft</text></g>
<g filter="url(#nf)"><text transform="translate(347.5 522.5) rotate(56) scale(1.07 1)" x="0" y="6.1" text-anchor="middle" font-family="'Liberation Sans',Arial,sans-serif" font-weight="bold" font-size="17.2" fill="#000" stroke="#000" stroke-width="0.4">600 ft</text></g>
<g filter="url(#nf)"><text transform="translate(705 730) rotate(-8) scale(1.07 1)" x="0" y="6.1" text-anchor="middle" font-family="'Liberation Sans',Arial,sans-serif" font-weight="bold" font-size="17.2" fill="#000" stroke="#000" stroke-width="0.4">600 ft</text></g>
<g filter="url(#nf)"><text transform="translate(768.6 556) rotate(6) scale(1.07 1)" x="0" y="6.1" text-anchor="middle" font-family="'Liberation Sans',Arial,sans-serif" font-weight="bold" font-size="17.2" fill="#000" stroke="#000" stroke-width="0.4">600 ft</text></g>
<g filter="url(#nf)"><text transform="translate(186 701) rotate(-5) scale(1.07 1)" x="0" y="6.1" text-anchor="middle" font-family="'Liberation Sans',Arial,sans-serif" font-weight="bold" font-size="17.2" fill="#000" stroke="#000" stroke-width="0.4">600 ft</text></g>
</g>
<rect x="52.5" y="37.5" width="794" height="734" fill="none" stroke="#000" stroke-width="1" shape-rendering="crispEdges"/>
<path d="M84.5 37v-6M84.5 772v6M125.5 37v-16M125.5 772v15M166.5 37v-6M166.5 772v6M206.5 37v-16M206.5 772v15M247.5 37v-6M247.5 772v6M288.5 37v-16M288.5 772v15M329.5 37v-6M329.5 772v6M370.5 37v-16M370.5 772v15M411.5 37v-6M411.5 772v6M452.5 37v-16M452.5 772v15M493.5 37v-6M493.5 772v6M533.5 37v-16M533.5 772v15M574.5 37v-6M574.5 772v6M615.5 37v-16M615.5 772v15M656.5 37v-6M656.5 772v6M697.5 37v-16M697.5 772v15M738.5 37v-6M738.5 772v6M779.5 37v-16M779.5 772v15M820.5 37v-6M820.5 772v6M52 768.5h-6M847 768.5h6M52 723.5h-15M847 723.5h15M52 679.5h-6M847 679.5h6M52 634.5h-15M847 634.5h15M52 589.5h-6M847 589.5h6M52 544.5h-15M847 544.5h15M52 499.5h-6M847 499.5h6M52 453.5h-15M847 453.5h15M52 408.5h-6M847 408.5h6M52 363.5h-15M847 363.5h15M52 317.5h-6M847 317.5h6M52 272.5h-15M847 272.5h15M52 226.5h-6M847 226.5h6M52 180.5h-15M847 180.5h15M52 134.5h-6M847 134.5h6M52 88.5h-15M847 88.5h15M52 42.5h-6M847 42.5h6" stroke="#000" stroke-width="1" fill="none" shape-rendering="crispEdges"/>
<text filter="url(#nf)" transform="translate(36.6 186.6) scale(1 1.09)" text-anchor="end" font-family="'Liberation Sans',Arial,sans-serif" font-size="13.9" fill="#000">27 0'</text>
<text filter="url(#nf)" transform="translate(36.6 369.6) scale(1 1.09)" text-anchor="end" font-family="'Liberation Sans',Arial,sans-serif" font-size="13.9" fill="#000">26 0'</text>
<text filter="url(#nf)" transform="translate(36.6 550.6) scale(1 1.09)" text-anchor="end" font-family="'Liberation Sans',Arial,sans-serif" font-size="13.9" fill="#000">25 0'</text>
<text filter="url(#nf)" transform="translate(36.6 729.6) scale(1 1.09)" text-anchor="end" font-family="'Liberation Sans',Arial,sans-serif" font-size="13.9" fill="#000">24 0'</text>
<text filter="url(#nf)" transform="translate(205.5 803.2) scale(1 1.09)" text-anchor="middle" font-family="'Liberation Sans',Arial,sans-serif" font-size="13.9" fill="#000">-80 0'</text>
<text filter="url(#nf)" transform="translate(369.5 803.2) scale(1 1.09)" text-anchor="middle" font-family="'Liberation Sans',Arial,sans-serif" font-size="13.9" fill="#000">-79 0'</text>
<text filter="url(#nf)" transform="translate(532.5 803.2) scale(1 1.09)" text-anchor="middle" font-family="'Liberation Sans',Arial,sans-serif" font-size="13.9" fill="#000">-78 0'</text>
<text filter="url(#nf)" transform="translate(696.5 803.2) scale(1 1.09)" text-anchor="middle" font-family="'Liberation Sans',Arial,sans-serif" font-size="13.9" fill="#000">-77 0'</text>
<defs><linearGradient id="cb" x1="0" y1="0" x2="0" y2="1">
<stop offset="0.0000" stop-color="rgb(128,0,0)"/>
<stop offset="0.1250" stop-color="rgb(255,0,0)"/>
<stop offset="0.2500" stop-color="rgb(255,128,0)"/>
<stop offset="0.3750" stop-color="rgb(255,255,0)"/>
<stop offset="0.5000" stop-color="rgb(128,255,128)"/>
<stop offset="0.6250" stop-color="rgb(0,255,255)"/>
<stop offset="0.7500" stop-color="rgb(0,128,255)"/>
<stop offset="0.8750" stop-color="rgb(0,0,255)"/>
<stop offset="0.8806" stop-color="rgb(0,0,250)"/>
<stop offset="0.8838" stop-color="rgb(64,36,200)"/>
<stop offset="0.9150" stop-color="rgb(150,30,212)"/>
<stop offset="0.9438" stop-color="rgb(232,30,222)"/>
<stop offset="0.9675" stop-color="rgb(255,32,222)"/>
<stop offset="0.9875" stop-color="rgb(255,36,170)"/>
<stop offset="1.0000" stop-color="rgb(255,44,128)"/>
</linearGradient></defs>
<rect x="918.5" y="37.5" width="45" height="734" fill="url(#cb)" stroke="#000" stroke-width="1" shape-rendering="crispEdges"/>
<path d="M963 679.5h-3M963 588.5h-3M963 496.5h-3M963 404.5h-3M963 312.5h-3M963 220.5h-3M963 129.5h-3M919 669.5h3M919 568.5h3M919 466.5h3M919 364.5h3M919 262.5h3M919 161.5h3M919 59.5h3" stroke="#000" stroke-width="1" fill="none" shape-rendering="crispEdges" opacity="0.55"/>
<text filter="url(#nf)" transform="translate(966.0 686.1) scale(1 1.09)" text-anchor="start" font-family="'Liberation Sans',Arial,sans-serif" font-size="13.9" fill="#000">23C</text>
<text filter="url(#nf)" transform="translate(966.0 594.4) scale(1 1.09)" text-anchor="start" font-family="'Liberation Sans',Arial,sans-serif" font-size="13.9" fill="#000">24C</text>
<text filter="url(#nf)" transform="translate(966.0 502.6) scale(1 1.09)" text-anchor="start" font-family="'Liberation Sans',Arial,sans-serif" font-size="13.9" fill="#000">25C</text>
<text filter="url(#nf)" transform="translate(966.0 410.9) scale(1 1.09)" text-anchor="start" font-family="'Liberation Sans',Arial,sans-serif" font-size="13.9" fill="#000">26C</text>
<text filter="url(#nf)" transform="translate(966.0 319.1) scale(1 1.09)" text-anchor="start" font-family="'Liberation Sans',Arial,sans-serif" font-size="13.9" fill="#000">27C</text>
<text filter="url(#nf)" transform="translate(966.0 227.4) scale(1 1.09)" text-anchor="start" font-family="'Liberation Sans',Arial,sans-serif" font-size="13.9" fill="#000">28C</text>
<text filter="url(#nf)" transform="translate(966.0 135.7) scale(1 1.09)" text-anchor="start" font-family="'Liberation Sans',Arial,sans-serif" font-size="13.9" fill="#000">29C</text>
<text filter="url(#nf)" transform="translate(966.0 43.9) scale(1 1.09)" text-anchor="start" font-family="'Liberation Sans',Arial,sans-serif" font-size="13.9" fill="#000">30C</text>
<text filter="url(#nf)" transform="translate(970.5 777.9) scale(1 1.09)" text-anchor="start" font-family="'Liberation Sans',Arial,sans-serif" font-size="13.9" fill="#000">22C</text>
<text filter="url(#nf)" transform="translate(914.0 674.7) scale(1 1.09)" text-anchor="end" font-family="'Liberation Sans',Arial,sans-serif" font-size="13.9" fill="#000">74F</text>
<text filter="url(#nf)" transform="translate(914.0 573.0) scale(1 1.09)" text-anchor="end" font-family="'Liberation Sans',Arial,sans-serif" font-size="13.9" fill="#000">76F</text>
<text filter="url(#nf)" transform="translate(914.0 471.2) scale(1 1.09)" text-anchor="end" font-family="'Liberation Sans',Arial,sans-serif" font-size="13.9" fill="#000">78F</text>
<text filter="url(#nf)" transform="translate(914.0 369.5) scale(1 1.09)" text-anchor="end" font-family="'Liberation Sans',Arial,sans-serif" font-size="13.9" fill="#000">80F</text>
<text filter="url(#nf)" transform="translate(914.0 267.8) scale(1 1.09)" text-anchor="end" font-family="'Liberation Sans',Arial,sans-serif" font-size="13.9" fill="#000">82F</text>
<text filter="url(#nf)" transform="translate(914.0 166.1) scale(1 1.09)" text-anchor="end" font-family="'Liberation Sans',Arial,sans-serif" font-size="13.9" fill="#000">84F</text>
<text filter="url(#nf)" transform="translate(914.0 64.4) scale(1 1.09)" text-anchor="end" font-family="'Liberation Sans',Arial,sans-serif" font-size="13.9" fill="#000">86F</text>
<text filter="url(#nf)" transform="translate(909.5 777.9) scale(1 1.09)" text-anchor="end" font-family="'Liberation Sans',Arial,sans-serif" font-size="13.9" fill="#000">72F</text>
</svg>
</body></html>
